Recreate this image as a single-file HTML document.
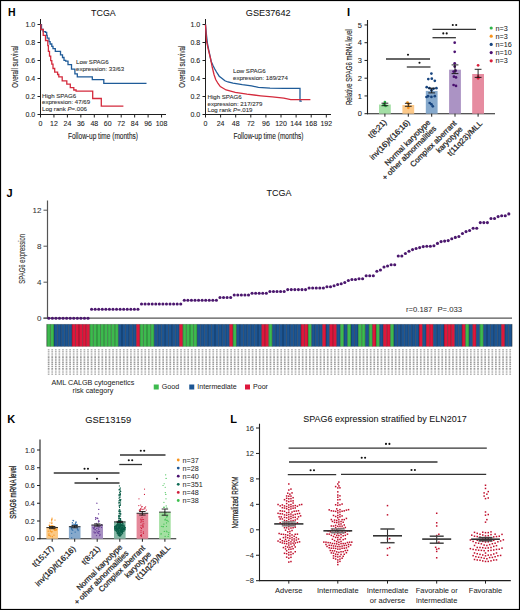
<!DOCTYPE html>
<html><head><meta charset="utf-8"><style>
html,body{margin:0;padding:0;background:#fff;}
svg{display:block;font-family:"Liberation Sans",sans-serif;}
</style></head><body>
<svg width="520" height="610" viewBox="0 0 520 610">
<rect x="0" y="0" width="520" height="610" fill="#fff"/>
<text x="7.9" y="16.4" font-size="10.5" text-anchor="start" fill="#000" font-weight="bold" >H</text>
<line x1="40.5" y1="19" x2="40.5" y2="115" stroke="#1e1e1e" stroke-width="1"/>
<line x1="40" y1="114.5" x2="166" y2="114.5" stroke="#1e1e1e" stroke-width="1"/>
<line x1="37.5" y1="114.5" x2="40.5" y2="114.5" stroke="#1e1e1e" stroke-width="1"/>
<text x="35.2" y="117" font-size="7" text-anchor="end" fill="#222" stroke="#222" stroke-width="0.08" >0.0</text>
<line x1="37.5" y1="96.5" x2="40.5" y2="96.5" stroke="#1e1e1e" stroke-width="1"/>
<text x="35.2" y="99" font-size="7" text-anchor="end" fill="#222" stroke="#222" stroke-width="0.08" >0.2</text>
<line x1="37.5" y1="78.5" x2="40.5" y2="78.5" stroke="#1e1e1e" stroke-width="1"/>
<text x="35.2" y="81" font-size="7" text-anchor="end" fill="#222" stroke="#222" stroke-width="0.08" >0.4</text>
<line x1="37.5" y1="60.5" x2="40.5" y2="60.5" stroke="#1e1e1e" stroke-width="1"/>
<text x="35.2" y="63" font-size="7" text-anchor="end" fill="#222" stroke="#222" stroke-width="0.08" >0.6</text>
<line x1="37.5" y1="42.5" x2="40.5" y2="42.5" stroke="#1e1e1e" stroke-width="1"/>
<text x="35.2" y="45" font-size="7" text-anchor="end" fill="#222" stroke="#222" stroke-width="0.08" >0.8</text>
<line x1="37.5" y1="24.5" x2="40.5" y2="24.5" stroke="#1e1e1e" stroke-width="1"/>
<text x="35.2" y="27" font-size="7" text-anchor="end" fill="#222" stroke="#222" stroke-width="0.08" >1.0</text>
<line x1="40.5" y1="114.5" x2="40.5" y2="117.5" stroke="#1e1e1e" stroke-width="1"/>
<text x="40.5" y="126" font-size="7" text-anchor="middle" fill="#222" stroke="#222" stroke-width="0.08" >0</text>
<line x1="53.95" y1="114.5" x2="53.95" y2="117.5" stroke="#1e1e1e" stroke-width="1"/>
<text x="53.95" y="126" font-size="7" text-anchor="middle" fill="#222" stroke="#222" stroke-width="0.08" >12</text>
<line x1="67.4" y1="114.5" x2="67.4" y2="117.5" stroke="#1e1e1e" stroke-width="1"/>
<text x="67.4" y="126" font-size="7" text-anchor="middle" fill="#222" stroke="#222" stroke-width="0.08" >24</text>
<line x1="80.85" y1="114.5" x2="80.85" y2="117.5" stroke="#1e1e1e" stroke-width="1"/>
<text x="80.85" y="126" font-size="7" text-anchor="middle" fill="#222" stroke="#222" stroke-width="0.08" >36</text>
<line x1="94.3" y1="114.5" x2="94.3" y2="117.5" stroke="#1e1e1e" stroke-width="1"/>
<text x="94.3" y="126" font-size="7" text-anchor="middle" fill="#222" stroke="#222" stroke-width="0.08" >48</text>
<line x1="107.75" y1="114.5" x2="107.75" y2="117.5" stroke="#1e1e1e" stroke-width="1"/>
<text x="107.75" y="126" font-size="7" text-anchor="middle" fill="#222" stroke="#222" stroke-width="0.08" >60</text>
<line x1="121.2" y1="114.5" x2="121.2" y2="117.5" stroke="#1e1e1e" stroke-width="1"/>
<text x="121.2" y="126" font-size="7" text-anchor="middle" fill="#222" stroke="#222" stroke-width="0.08" >72</text>
<line x1="134.65" y1="114.5" x2="134.65" y2="117.5" stroke="#1e1e1e" stroke-width="1"/>
<text x="134.65" y="126" font-size="7" text-anchor="middle" fill="#222" stroke="#222" stroke-width="0.08" >84</text>
<line x1="148.1" y1="114.5" x2="148.1" y2="117.5" stroke="#1e1e1e" stroke-width="1"/>
<text x="148.1" y="126" font-size="7" text-anchor="middle" fill="#222" stroke="#222" stroke-width="0.08" >96</text>
<line x1="161.55" y1="114.5" x2="161.55" y2="117.5" stroke="#1e1e1e" stroke-width="1"/>
<text x="161.55" y="126" font-size="7" text-anchor="middle" fill="#222" stroke="#222" stroke-width="0.08" >108</text>
<text x="103.4" y="15.9" font-size="9.7" text-anchor="middle" fill="#111" stroke="#111" stroke-width="0.05" textLength="24.6" lengthAdjust="spacingAndGlyphs" >TCGA</text>
<text transform="translate(14.6,66.7) rotate(-90)" x="0" y="3.49" font-size="9.7" text-anchor="middle" fill="#222" stroke="#222" stroke-width="0.12" textLength="42" lengthAdjust="spacingAndGlyphs">Overall survival</text>
<text x="103" y="138.5" font-size="9.7" text-anchor="middle" fill="#222" stroke="#222" stroke-width="0.12" textLength="70" lengthAdjust="spacingAndGlyphs" >Follow-up time (months)</text>
<path d="M40.5,24.6 H41.5 V29.5 H43.2 V31.6 H45.5 V32.4 H46.7 V35.3 H47.2 V38.2 H49 V41.6 H50.1 V44 H51.8 V46.3 H53 V48.6 H55.3 V51.4 H58.2 V51.4 H60.5 V54.9 H62.5 V57.5 H64 V60.3 H65.7 V61.2 H68 V64.6 H71.5 V69.2 H74.9 V73.8 H77.3 V76.9 H92.3 V79.6 H103.8 V83.3 H146.5 V83.3" fill="none" stroke="#1f5b98" stroke-width="1.3"/>
<path d="M40.5,24.6 H40.9 V29.5 H43.2 V35.3 H45.5 V40.5 H47.8 V45.7 H48.4 V51.4 H49.5 V56.1 H50.7 V60.7 H51.8 V64.1 H53 V68.5 H54.7 V72.2 H57.6 V74.5 H58.8 V76.8 H62.2 V80.8 H66.8 V84.2 H70.3 V87.7 H73.8 V90 H76.1 V91.2 H92.7 V98.5 H101.3 V106.2 H123.4 V106.2" fill="none" stroke="#d42a3c" stroke-width="1.3"/>
<text x="76" y="63.5" font-size="6.1" text-anchor="start" fill="#333" stroke="#333" stroke-width="0.1" >Low SPAG6</text>
<text x="76" y="70.5" font-size="6.1" text-anchor="start" fill="#333" stroke="#333" stroke-width="0.1" >expression: 33/63</text>
<text x="42" y="97.8" font-size="6.1" text-anchor="start" fill="#333" stroke="#333" stroke-width="0.1" >High SPAG6</text>
<text x="42" y="104.45" font-size="6.1" text-anchor="start" fill="#333" stroke="#333" stroke-width="0.1" >expression: 47/69</text>
<text x="42" y="111.1" font-size="6.1" text-anchor="start" fill="#333" stroke="#333" stroke-width="0.1" >Log rank <tspan font-style="italic">P</tspan>=.006</text>
<line x1="205.5" y1="19" x2="205.5" y2="115" stroke="#1e1e1e" stroke-width="1"/>
<line x1="205" y1="114.5" x2="331" y2="114.5" stroke="#1e1e1e" stroke-width="1"/>
<line x1="202.5" y1="114.5" x2="205.5" y2="114.5" stroke="#1e1e1e" stroke-width="1"/>
<text x="200.2" y="117" font-size="7" text-anchor="end" fill="#222" stroke="#222" stroke-width="0.08" >0.0</text>
<line x1="202.5" y1="96.5" x2="205.5" y2="96.5" stroke="#1e1e1e" stroke-width="1"/>
<text x="200.2" y="99" font-size="7" text-anchor="end" fill="#222" stroke="#222" stroke-width="0.08" >0.2</text>
<line x1="202.5" y1="78.5" x2="205.5" y2="78.5" stroke="#1e1e1e" stroke-width="1"/>
<text x="200.2" y="81" font-size="7" text-anchor="end" fill="#222" stroke="#222" stroke-width="0.08" >0.4</text>
<line x1="202.5" y1="60.5" x2="205.5" y2="60.5" stroke="#1e1e1e" stroke-width="1"/>
<text x="200.2" y="63" font-size="7" text-anchor="end" fill="#222" stroke="#222" stroke-width="0.08" >0.6</text>
<line x1="202.5" y1="42.5" x2="205.5" y2="42.5" stroke="#1e1e1e" stroke-width="1"/>
<text x="200.2" y="45" font-size="7" text-anchor="end" fill="#222" stroke="#222" stroke-width="0.08" >0.8</text>
<line x1="202.5" y1="24.5" x2="205.5" y2="24.5" stroke="#1e1e1e" stroke-width="1"/>
<text x="200.2" y="27" font-size="7" text-anchor="end" fill="#222" stroke="#222" stroke-width="0.08" >1.0</text>
<line x1="205.5" y1="114.5" x2="205.5" y2="117.5" stroke="#1e1e1e" stroke-width="1"/>
<text x="205.5" y="126" font-size="7" text-anchor="middle" fill="#222" stroke="#222" stroke-width="0.08" >0</text>
<line x1="220.6" y1="114.5" x2="220.6" y2="117.5" stroke="#1e1e1e" stroke-width="1"/>
<text x="220.6" y="126" font-size="7" text-anchor="middle" fill="#222" stroke="#222" stroke-width="0.08" >24</text>
<line x1="235.7" y1="114.5" x2="235.7" y2="117.5" stroke="#1e1e1e" stroke-width="1"/>
<text x="235.7" y="126" font-size="7" text-anchor="middle" fill="#222" stroke="#222" stroke-width="0.08" >48</text>
<line x1="250.8" y1="114.5" x2="250.8" y2="117.5" stroke="#1e1e1e" stroke-width="1"/>
<text x="250.8" y="126" font-size="7" text-anchor="middle" fill="#222" stroke="#222" stroke-width="0.08" >72</text>
<line x1="265.9" y1="114.5" x2="265.9" y2="117.5" stroke="#1e1e1e" stroke-width="1"/>
<text x="265.9" y="126" font-size="7" text-anchor="middle" fill="#222" stroke="#222" stroke-width="0.08" >96</text>
<line x1="281" y1="114.5" x2="281" y2="117.5" stroke="#1e1e1e" stroke-width="1"/>
<text x="281" y="126" font-size="7" text-anchor="middle" fill="#222" stroke="#222" stroke-width="0.08" >120</text>
<line x1="296.1" y1="114.5" x2="296.1" y2="117.5" stroke="#1e1e1e" stroke-width="1"/>
<text x="296.1" y="126" font-size="7" text-anchor="middle" fill="#222" stroke="#222" stroke-width="0.08" >144</text>
<line x1="311.2" y1="114.5" x2="311.2" y2="117.5" stroke="#1e1e1e" stroke-width="1"/>
<text x="311.2" y="126" font-size="7" text-anchor="middle" fill="#222" stroke="#222" stroke-width="0.08" >168</text>
<line x1="326.3" y1="114.5" x2="326.3" y2="117.5" stroke="#1e1e1e" stroke-width="1"/>
<text x="326.3" y="126" font-size="7" text-anchor="middle" fill="#222" stroke="#222" stroke-width="0.08" >192</text>
<text x="268.2" y="16.1" font-size="9.7" text-anchor="middle" fill="#111" stroke="#111" stroke-width="0.05" textLength="44.8" lengthAdjust="spacingAndGlyphs" >GSE37642</text>
<text transform="translate(181,66.7) rotate(-90)" x="0" y="3.49" font-size="9.7" text-anchor="middle" fill="#222" stroke="#222" stroke-width="0.12" textLength="42" lengthAdjust="spacingAndGlyphs">Overall survival</text>
<text x="268.5" y="138.5" font-size="9.7" text-anchor="middle" fill="#222" stroke="#222" stroke-width="0.12" textLength="70" lengthAdjust="spacingAndGlyphs" >Follow-up time (months)</text>
<path d="M205.5,24.6 L206.5,35.3 L207.6,44.5 L209.3,52.6 L211.1,61.2 L213,65.5 L214.5,68.5 L216.5,72 L219.2,76.2 L221.5,78 L224.9,80.8 L228,82 L233,83.1 L242.3,84.7 L251.5,85.9 L258.4,87.3 L270,88.2 L283.8,88.4 L300,88.4 V101.1 H301.8" fill="none" stroke="#1f5b98" stroke-width="1.3"/>
<path d="M205.5,24.6 L206.5,41 L208.2,49.1 L210.5,58.4 L212.2,67 L214,74.5 L215.7,79.5 L218,83.5 L220.3,86.6 L226.1,90 L235.3,92.3 L246.9,94.2 L260.7,95.8 L272.3,96.9 L283.8,98.1 L290.8,99.7 L310.4,99.7" fill="none" stroke="#d42a3c" stroke-width="1.3"/>
<text x="233" y="72.8" font-size="6.1" text-anchor="start" fill="#333" stroke="#333" stroke-width="0.1" >Low SPAG6</text>
<text x="233" y="79.8" font-size="6.1" text-anchor="start" fill="#333" stroke="#333" stroke-width="0.1" >expression: 189/274</text>
<text x="207.5" y="99.3" font-size="6.1" text-anchor="start" fill="#333" stroke="#333" stroke-width="0.1" >High SPAG6</text>
<text x="207.5" y="105.8" font-size="6.1" text-anchor="start" fill="#333" stroke="#333" stroke-width="0.1" >expression: 217/279</text>
<text x="207.5" y="112.3" font-size="6.1" text-anchor="start" fill="#333" stroke="#333" stroke-width="0.1" >Log rank <tspan font-style="italic">P</tspan>=.019</text>
<text x="347" y="16.3" font-size="11" text-anchor="start" fill="#000" font-weight="bold" >I</text>
<line x1="367.5" y1="20" x2="367.5" y2="114.2" stroke="#1e1e1e" stroke-width="1.1"/>
<line x1="367" y1="113.7" x2="495" y2="113.7" stroke="#1e1e1e" stroke-width="1.1"/>
<line x1="364.5" y1="113.7" x2="367.5" y2="113.7" stroke="#1e1e1e" stroke-width="1"/>
<text x="362" y="116.4" font-size="7.5" text-anchor="end" fill="#222" stroke="#222" stroke-width="0.08" >0</text>
<line x1="364.5" y1="95.95" x2="367.5" y2="95.95" stroke="#1e1e1e" stroke-width="1"/>
<text x="362" y="98.65" font-size="7.5" text-anchor="end" fill="#222" stroke="#222" stroke-width="0.08" >1</text>
<line x1="364.5" y1="78.2" x2="367.5" y2="78.2" stroke="#1e1e1e" stroke-width="1"/>
<text x="362" y="80.9" font-size="7.5" text-anchor="end" fill="#222" stroke="#222" stroke-width="0.08" >2</text>
<line x1="364.5" y1="60.45" x2="367.5" y2="60.45" stroke="#1e1e1e" stroke-width="1"/>
<text x="362" y="63.15" font-size="7.5" text-anchor="end" fill="#222" stroke="#222" stroke-width="0.08" >3</text>
<line x1="364.5" y1="42.7" x2="367.5" y2="42.7" stroke="#1e1e1e" stroke-width="1"/>
<text x="362" y="45.4" font-size="7.5" text-anchor="end" fill="#222" stroke="#222" stroke-width="0.08" >4</text>
<line x1="364.5" y1="24.95" x2="367.5" y2="24.95" stroke="#1e1e1e" stroke-width="1"/>
<text x="362" y="27.65" font-size="7.5" text-anchor="end" fill="#222" stroke="#222" stroke-width="0.08" >5</text>
<text transform="translate(348.5,67.1) rotate(-90)" x="0" y="3.49" font-size="9.7" text-anchor="middle" fill="#222" stroke="#222" stroke-width="0.12" textLength="76" lengthAdjust="spacingAndGlyphs">Relative SPAG6 mRNA level</text>
<rect x="379" y="104.5" width="11.8" height="9.2" fill="#a3dfa5"/>
<line x1="384.9" y1="113.7" x2="384.9" y2="116.7" stroke="#1e1e1e" stroke-width="1"/>
<circle cx="384.9" cy="102" r="1.35" fill="#2eb34a"/>
<circle cx="383.8" cy="104.4" r="1.35" fill="#2eb34a"/>
<circle cx="385.6" cy="105.9" r="1.35" fill="#2eb34a"/>
<line x1="384.9" y1="103.2" x2="384.9" y2="105.7" stroke="#111" stroke-width="0.9"/>
<line x1="381.5" y1="103.2" x2="388.3" y2="103.2" stroke="#111" stroke-width="0.9"/>
<line x1="381.5" y1="105.7" x2="388.3" y2="105.7" stroke="#111" stroke-width="0.9"/>
<rect x="402.4" y="105" width="11.8" height="8.7" fill="#fcc98a"/>
<line x1="408.3" y1="113.7" x2="408.3" y2="116.7" stroke="#1e1e1e" stroke-width="1"/>
<circle cx="407.5" cy="102.5" r="1.35" fill="#f7941d"/>
<circle cx="408.6" cy="104" r="1.35" fill="#f7941d"/>
<circle cx="408.3" cy="107.8" r="1.35" fill="#f7941d"/>
<line x1="408.3" y1="103.3" x2="408.3" y2="106.3" stroke="#111" stroke-width="0.9"/>
<line x1="404.9" y1="103.3" x2="411.7" y2="103.3" stroke="#111" stroke-width="0.9"/>
<line x1="404.9" y1="106.3" x2="411.7" y2="106.3" stroke="#111" stroke-width="0.9"/>
<rect x="425.8" y="90.9" width="11.8" height="22.8" fill="#86a9cc"/>
<line x1="431.7" y1="113.7" x2="431.7" y2="116.7" stroke="#1e1e1e" stroke-width="1"/>
<circle cx="431.4" cy="73.6" r="1.35" fill="#17447f"/>
<circle cx="428.3" cy="79.1" r="1.35" fill="#17447f"/>
<circle cx="431.8" cy="78.7" r="1.35" fill="#17447f"/>
<circle cx="434.8" cy="80.8" r="1.35" fill="#17447f"/>
<circle cx="426.7" cy="87.2" r="1.35" fill="#17447f"/>
<circle cx="429.4" cy="88.2" r="1.35" fill="#17447f"/>
<circle cx="433.5" cy="88.8" r="1.35" fill="#17447f"/>
<circle cx="436.4" cy="88.2" r="1.35" fill="#17447f"/>
<circle cx="431.4" cy="90.2" r="1.35" fill="#17447f"/>
<circle cx="428.1" cy="96.2" r="1.35" fill="#17447f"/>
<circle cx="431.4" cy="96.9" r="1.35" fill="#17447f"/>
<circle cx="434.8" cy="96.2" r="1.35" fill="#17447f"/>
<circle cx="429.7" cy="103" r="1.35" fill="#17447f"/>
<circle cx="431.4" cy="104.3" r="1.35" fill="#17447f"/>
<circle cx="432.8" cy="106.3" r="1.35" fill="#17447f"/>
<circle cx="426.5" cy="97" r="1.35" fill="#17447f"/>
<line x1="431.7" y1="88.2" x2="431.7" y2="92.9" stroke="#111" stroke-width="0.9"/>
<line x1="428.3" y1="88.2" x2="435.1" y2="88.2" stroke="#111" stroke-width="0.9"/>
<line x1="428.3" y1="92.9" x2="435.1" y2="92.9" stroke="#111" stroke-width="0.9"/>
<rect x="449.1" y="69.7" width="11.8" height="44" fill="#ab93c4"/>
<line x1="455" y1="113.7" x2="455" y2="116.7" stroke="#1e1e1e" stroke-width="1"/>
<circle cx="454.7" cy="42.7" r="1.35" fill="#4a1070"/>
<circle cx="454.7" cy="51.8" r="1.35" fill="#4a1070"/>
<circle cx="454.7" cy="63.3" r="1.35" fill="#4a1070"/>
<circle cx="454.7" cy="66.6" r="1.35" fill="#4a1070"/>
<circle cx="455.7" cy="70.7" r="1.35" fill="#4a1070"/>
<circle cx="453.6" cy="71.6" r="1.35" fill="#4a1070"/>
<circle cx="453.9" cy="76.7" r="1.35" fill="#4a1070"/>
<circle cx="456" cy="77.4" r="1.35" fill="#4a1070"/>
<circle cx="453.6" cy="85" r="1.35" fill="#4a1070"/>
<circle cx="456" cy="85.9" r="1.35" fill="#4a1070"/>
<line x1="455" y1="64.9" x2="455" y2="73.6" stroke="#111" stroke-width="0.9"/>
<line x1="451.6" y1="64.9" x2="458.4" y2="64.9" stroke="#111" stroke-width="0.9"/>
<line x1="451.6" y1="73.6" x2="458.4" y2="73.6" stroke="#111" stroke-width="0.9"/>
<rect x="472.2" y="74" width="11.8" height="39.7" fill="#e68ca0"/>
<line x1="478.1" y1="113.7" x2="478.1" y2="116.7" stroke="#1e1e1e" stroke-width="1"/>
<circle cx="478.1" cy="65.3" r="1.35" fill="#d91f3c"/>
<circle cx="478.1" cy="76.7" r="1.35" fill="#d91f3c"/>
<circle cx="478.1" cy="78.3" r="1.35" fill="#d91f3c"/>
<line x1="478.1" y1="69.3" x2="478.1" y2="77.4" stroke="#111" stroke-width="0.9"/>
<line x1="474.7" y1="69.3" x2="481.5" y2="69.3" stroke="#111" stroke-width="0.9"/>
<line x1="474.7" y1="77.4" x2="481.5" y2="77.4" stroke="#111" stroke-width="0.9"/>
<line x1="386" y1="59" x2="430" y2="59" stroke="#333" stroke-width="1.3"/>
<circle cx="408" cy="54.7" r="1.05" fill="#111"/>
<line x1="406.8" y1="67" x2="430.5" y2="67" stroke="#333" stroke-width="1.3"/>
<circle cx="419.5" cy="62.7" r="1.05" fill="#111"/>
<line x1="432.5" y1="37.7" x2="455.9" y2="37.7" stroke="#333" stroke-width="1.3"/>
<circle cx="443.3" cy="33.4" r="1.05" fill="#111"/>
<circle cx="446.7" cy="33.4" r="1.05" fill="#111"/>
<line x1="432.5" y1="29.3" x2="476" y2="29.3" stroke="#333" stroke-width="1.3"/>
<circle cx="452.8" cy="25" r="1.05" fill="#111"/>
<circle cx="456.2" cy="25" r="1.05" fill="#111"/>
<circle cx="491.2" cy="28" r="1.6" fill="#2eb34a"/>
<text x="495.6" y="30.5" font-size="7.2" text-anchor="start" fill="#222" stroke="#222" stroke-width="0.05" >n=3</text>
<circle cx="491.2" cy="36.2" r="1.6" fill="#f7941d"/>
<text x="495.6" y="38.7" font-size="7.2" text-anchor="start" fill="#222" stroke="#222" stroke-width="0.05" >n=3</text>
<circle cx="491.2" cy="44.4" r="1.6" fill="#17447f"/>
<text x="495.6" y="46.9" font-size="7.2" text-anchor="start" fill="#222" stroke="#222" stroke-width="0.05" >n=16</text>
<circle cx="491.2" cy="52.6" r="1.6" fill="#4a1070"/>
<text x="495.6" y="55.1" font-size="7.2" text-anchor="start" fill="#222" stroke="#222" stroke-width="0.05" >n=10</text>
<circle cx="491.2" cy="60.8" r="1.6" fill="#d91f3c"/>
<text x="495.6" y="63.3" font-size="7.2" text-anchor="start" fill="#222" stroke="#222" stroke-width="0.05" >n=3</text>
<text transform="translate(387.2,122.7) rotate(-45)" x="0" y="0" font-size="7.8" text-anchor="end" fill="#222" stroke="#222" stroke-width="0.25">t(8;21)</text>
<text transform="translate(410.3,122.9) rotate(-45)" x="0" y="0" font-size="7.8" text-anchor="end" fill="#222" stroke="#222" stroke-width="0.25">inv(16)/t(16;16)</text>
<text transform="translate(430.85,123) rotate(-45)" x="0" y="0" font-size="7.8" text-anchor="end" fill="#222" stroke="#222" stroke-width="0.25">Normal karyotype</text>
<text transform="translate(436.86,129.01) rotate(-45)" x="0" y="0" font-size="7.8" text-anchor="end" fill="#222" stroke="#222" stroke-width="0.25">+ other abnormalities</text>
<text transform="translate(457.05,123.7) rotate(-45)" x="0" y="0" font-size="7.8" text-anchor="end" fill="#222" stroke="#222" stroke-width="0.25">Complex aberrant</text>
<text transform="translate(463.06,129.71) rotate(-45)" x="0" y="0" font-size="7.8" text-anchor="end" fill="#222" stroke="#222" stroke-width="0.25">karyotype</text>
<text transform="translate(482.8,124) rotate(-45)" x="0" y="0" font-size="7.8" text-anchor="end" fill="#222" stroke="#222" stroke-width="0.25">t(11q23)/MLL</text>
<text x="6.4" y="196.5" font-size="11" text-anchor="start" fill="#000" font-weight="bold" >J</text>
<line x1="47.5" y1="200.5" x2="47.5" y2="318.7" stroke="#555" stroke-width="1.2"/>
<line x1="43.5" y1="318.2" x2="512" y2="318.2" stroke="#555" stroke-width="1.2"/>
<line x1="43.5" y1="318.2" x2="47.5" y2="318.2" stroke="#555" stroke-width="1"/>
<text x="41.5" y="321" font-size="8" text-anchor="end" fill="#333" stroke="#333" stroke-width="0.05" >0</text>
<line x1="43.5" y1="282.2" x2="47.5" y2="282.2" stroke="#555" stroke-width="1"/>
<text x="41.5" y="285" font-size="8" text-anchor="end" fill="#333" stroke="#333" stroke-width="0.05" >4</text>
<line x1="43.5" y1="246.2" x2="47.5" y2="246.2" stroke="#555" stroke-width="1"/>
<text x="41.5" y="249" font-size="8" text-anchor="end" fill="#333" stroke="#333" stroke-width="0.05" >8</text>
<line x1="43.5" y1="210.2" x2="47.5" y2="210.2" stroke="#555" stroke-width="1"/>
<text x="41.5" y="213" font-size="8" text-anchor="end" fill="#333" stroke="#333" stroke-width="0.05" >12</text>
<text transform="translate(21.2,258.8) rotate(-90)" x="0" y="3.49" font-size="9.7" text-anchor="middle" fill="#333" stroke="#333" stroke-width="0.12" textLength="50" lengthAdjust="spacingAndGlyphs">SPAG6 expression</text>
<text x="279" y="196.3" font-size="9.7" text-anchor="middle" fill="#111" stroke="#111" stroke-width="0.05" textLength="25" lengthAdjust="spacingAndGlyphs" >TCGA</text>
<text x="406" y="311.8" font-size="7.4" text-anchor="start" fill="#333" stroke="#333" stroke-width="0.05" textLength="26.3" lengthAdjust="spacingAndGlyphs" >r=0.187</text>
<text x="437.4" y="311.8" font-size="7.4" text-anchor="start" fill="#333" stroke="#333" stroke-width="0.05" textLength="24.8" lengthAdjust="spacingAndGlyphs" >P=.033</text>
<g fill="#4b176e"><circle cx="48.8" cy="318.2" r="1.55"/><circle cx="52.37" cy="318.2" r="1.55"/><circle cx="55.93" cy="318.2" r="1.55"/><circle cx="59.5" cy="318.2" r="1.55"/><circle cx="63.06" cy="318.2" r="1.55"/><circle cx="66.63" cy="318.2" r="1.55"/><circle cx="70.2" cy="318.2" r="1.55"/><circle cx="73.76" cy="318.2" r="1.55"/><circle cx="77.33" cy="318.2" r="1.55"/><circle cx="80.89" cy="318.2" r="1.55"/><circle cx="84.46" cy="318.2" r="1.55"/><circle cx="88.03" cy="318.2" r="1.55"/><circle cx="91.59" cy="309.25" r="1.55"/><circle cx="95.16" cy="309.25" r="1.55"/><circle cx="98.72" cy="309.25" r="1.55"/><circle cx="102.29" cy="309.25" r="1.55"/><circle cx="105.86" cy="309.25" r="1.55"/><circle cx="109.42" cy="309.25" r="1.55"/><circle cx="112.99" cy="309.25" r="1.55"/><circle cx="116.55" cy="309.25" r="1.55"/><circle cx="120.12" cy="309.25" r="1.55"/><circle cx="123.69" cy="309.25" r="1.55"/><circle cx="127.25" cy="309.25" r="1.55"/><circle cx="130.82" cy="309.25" r="1.55"/><circle cx="134.38" cy="309.25" r="1.55"/><circle cx="137.95" cy="309.25" r="1.55"/><circle cx="141.52" cy="304" r="1.55"/><circle cx="145.08" cy="304" r="1.55"/><circle cx="148.65" cy="304" r="1.55"/><circle cx="152.21" cy="304" r="1.55"/><circle cx="155.78" cy="304" r="1.55"/><circle cx="159.35" cy="304" r="1.55"/><circle cx="162.91" cy="304" r="1.55"/><circle cx="166.48" cy="304" r="1.55"/><circle cx="170.04" cy="304" r="1.55"/><circle cx="173.61" cy="304" r="1.55"/><circle cx="177.18" cy="304" r="1.55"/><circle cx="180.74" cy="304" r="1.55"/><circle cx="184.31" cy="300.25" r="1.55"/><circle cx="187.87" cy="300.25" r="1.55"/><circle cx="191.44" cy="300.25" r="1.55"/><circle cx="195.01" cy="300.25" r="1.55"/><circle cx="198.57" cy="300.25" r="1.55"/><circle cx="202.14" cy="300.25" r="1.55"/><circle cx="205.7" cy="300.25" r="1.55"/><circle cx="209.27" cy="300.25" r="1.55"/><circle cx="212.84" cy="300.25" r="1.55"/><circle cx="216.4" cy="300.25" r="1.55"/><circle cx="219.97" cy="297.5" r="1.55"/><circle cx="223.53" cy="297.5" r="1.55"/><circle cx="227.1" cy="297.5" r="1.55"/><circle cx="230.67" cy="297.5" r="1.55"/><circle cx="234.23" cy="295" r="1.55"/><circle cx="237.8" cy="295" r="1.55"/><circle cx="241.36" cy="295" r="1.55"/><circle cx="244.93" cy="295" r="1.55"/><circle cx="248.5" cy="295" r="1.55"/><circle cx="252.06" cy="293.25" r="1.55"/><circle cx="255.63" cy="293.25" r="1.55"/><circle cx="259.19" cy="293.25" r="1.55"/><circle cx="262.76" cy="293.25" r="1.55"/><circle cx="266.33" cy="293.25" r="1.55"/><circle cx="269.89" cy="291.5" r="1.55"/><circle cx="273.46" cy="291.5" r="1.55"/><circle cx="277.02" cy="291.5" r="1.55"/><circle cx="280.59" cy="291.5" r="1.55"/><circle cx="284.16" cy="291.5" r="1.55"/><circle cx="287.72" cy="289.6" r="1.55"/><circle cx="291.29" cy="289.6" r="1.55"/><circle cx="294.85" cy="289.6" r="1.55"/><circle cx="298.42" cy="289.6" r="1.55"/><circle cx="301.99" cy="289.6" r="1.55"/><circle cx="305.55" cy="289.6" r="1.55"/><circle cx="309.12" cy="288" r="1.55"/><circle cx="312.68" cy="288" r="1.55"/><circle cx="316.25" cy="288" r="1.55"/><circle cx="319.82" cy="288" r="1.55"/><circle cx="323.38" cy="288" r="1.55"/><circle cx="326.95" cy="286.75" r="1.55"/><circle cx="330.51" cy="286.75" r="1.55"/><circle cx="334.08" cy="285.75" r="1.55"/><circle cx="337.65" cy="284.5" r="1.55"/><circle cx="341.21" cy="283.75" r="1.55"/><circle cx="344.78" cy="282.5" r="1.55"/><circle cx="348.34" cy="280.5" r="1.55"/><circle cx="351.91" cy="279.5" r="1.55"/><circle cx="355.48" cy="279.5" r="1.55"/><circle cx="359.04" cy="278.75" r="1.55"/><circle cx="362.61" cy="278.75" r="1.55"/><circle cx="366.17" cy="275.75" r="1.55"/><circle cx="369.74" cy="275.75" r="1.55"/><circle cx="373.31" cy="275.75" r="1.55"/><circle cx="376.87" cy="271.25" r="1.55"/><circle cx="380.44" cy="270" r="1.55"/><circle cx="384" cy="267" r="1.55"/><circle cx="387.57" cy="266" r="1.55"/><circle cx="391.14" cy="264.75" r="1.55"/><circle cx="394.7" cy="264.75" r="1.55"/><circle cx="398.27" cy="256" r="1.55"/><circle cx="401.83" cy="256" r="1.55"/><circle cx="405.4" cy="253.5" r="1.55"/><circle cx="408.97" cy="251.3" r="1.55"/><circle cx="412.53" cy="249.6" r="1.55"/><circle cx="416.1" cy="248.5" r="1.55"/><circle cx="419.66" cy="247.6" r="1.55"/><circle cx="423.23" cy="246.6" r="1.55"/><circle cx="426.8" cy="246.2" r="1.55"/><circle cx="430.36" cy="246.2" r="1.55"/><circle cx="433.93" cy="245.7" r="1.55"/><circle cx="437.49" cy="243.4" r="1.55"/><circle cx="441.06" cy="241.6" r="1.55"/><circle cx="444.63" cy="241.1" r="1.55"/><circle cx="448.19" cy="240.6" r="1.55"/><circle cx="451.76" cy="238.8" r="1.55"/><circle cx="455.32" cy="237.4" r="1.55"/><circle cx="458.89" cy="236.5" r="1.55"/><circle cx="462.46" cy="233.5" r="1.55"/><circle cx="466.02" cy="231.6" r="1.55"/><circle cx="469.59" cy="230.5" r="1.55"/><circle cx="473.15" cy="228.2" r="1.55"/><circle cx="476.72" cy="228.2" r="1.55"/><circle cx="480.29" cy="222.6" r="1.55"/><circle cx="483.85" cy="222.6" r="1.55"/><circle cx="487.42" cy="222.6" r="1.55"/><circle cx="490.98" cy="218.5" r="1.55"/><circle cx="494.55" cy="218.5" r="1.55"/><circle cx="498.12" cy="216.6" r="1.55"/><circle cx="501.68" cy="215.7" r="1.55"/><circle cx="505.25" cy="215.7" r="1.55"/><circle cx="508.81" cy="213.9" r="1.55"/></g>
<rect x="46.85" y="324.2" width="3.58" height="22.3" fill="#3dba4e"/><rect x="50.43" y="324.2" width="3.58" height="22.3" fill="#3dba4e"/><rect x="54.01" y="324.2" width="3.58" height="22.3" fill="#1c5593"/><rect x="57.58" y="324.2" width="3.58" height="22.3" fill="#1c5593"/><rect x="61.16" y="324.2" width="3.58" height="22.3" fill="#1c5593"/><rect x="64.74" y="324.2" width="3.58" height="22.3" fill="#1c5593"/><rect x="68.32" y="324.2" width="3.58" height="22.3" fill="#1c5593"/><rect x="71.9" y="324.2" width="3.58" height="22.3" fill="#de173c"/><rect x="75.47" y="324.2" width="3.58" height="22.3" fill="#de173c"/><rect x="79.05" y="324.2" width="3.58" height="22.3" fill="#de173c"/><rect x="82.63" y="324.2" width="3.58" height="22.3" fill="#de173c"/><rect x="86.21" y="324.2" width="3.58" height="22.3" fill="#de173c"/><rect x="89.79" y="324.2" width="3.58" height="22.3" fill="#3dba4e"/><rect x="93.36" y="324.2" width="3.58" height="22.3" fill="#3dba4e"/><rect x="96.94" y="324.2" width="3.58" height="22.3" fill="#3dba4e"/><rect x="100.52" y="324.2" width="3.58" height="22.3" fill="#3dba4e"/><rect x="104.1" y="324.2" width="3.58" height="22.3" fill="#3dba4e"/><rect x="107.68" y="324.2" width="3.58" height="22.3" fill="#3dba4e"/><rect x="111.26" y="324.2" width="3.58" height="22.3" fill="#3dba4e"/><rect x="114.83" y="324.2" width="3.58" height="22.3" fill="#3dba4e"/><rect x="118.41" y="324.2" width="3.58" height="22.3" fill="#1c5593"/><rect x="121.99" y="324.2" width="3.58" height="22.3" fill="#1c5593"/><rect x="125.57" y="324.2" width="3.58" height="22.3" fill="#1c5593"/><rect x="129.15" y="324.2" width="3.58" height="22.3" fill="#1c5593"/><rect x="132.72" y="324.2" width="3.58" height="22.3" fill="#1c5593"/><rect x="136.3" y="324.2" width="3.58" height="22.3" fill="#de173c"/><rect x="139.88" y="324.2" width="3.58" height="22.3" fill="#3dba4e"/><rect x="143.46" y="324.2" width="3.58" height="22.3" fill="#3dba4e"/><rect x="147.04" y="324.2" width="3.58" height="22.3" fill="#3dba4e"/><rect x="150.61" y="324.2" width="3.58" height="22.3" fill="#3dba4e"/><rect x="154.19" y="324.2" width="3.58" height="22.3" fill="#1c5593"/><rect x="157.77" y="324.2" width="3.58" height="22.3" fill="#1c5593"/><rect x="161.35" y="324.2" width="3.58" height="22.3" fill="#1c5593"/><rect x="164.93" y="324.2" width="3.58" height="22.3" fill="#1c5593"/><rect x="168.5" y="324.2" width="3.58" height="22.3" fill="#1c5593"/><rect x="172.08" y="324.2" width="3.58" height="22.3" fill="#1c5593"/><rect x="175.66" y="324.2" width="3.58" height="22.3" fill="#1c5593"/><rect x="179.24" y="324.2" width="3.58" height="22.3" fill="#de173c"/><rect x="182.82" y="324.2" width="3.58" height="22.3" fill="#3dba4e"/><rect x="186.39" y="324.2" width="3.58" height="22.3" fill="#3dba4e"/><rect x="189.97" y="324.2" width="3.58" height="22.3" fill="#3dba4e"/><rect x="193.55" y="324.2" width="3.58" height="22.3" fill="#3dba4e"/><rect x="197.13" y="324.2" width="3.58" height="22.3" fill="#1c5593"/><rect x="200.71" y="324.2" width="3.58" height="22.3" fill="#1c5593"/><rect x="204.29" y="324.2" width="3.58" height="22.3" fill="#1c5593"/><rect x="207.86" y="324.2" width="3.58" height="22.3" fill="#1c5593"/><rect x="211.44" y="324.2" width="3.58" height="22.3" fill="#1c5593"/><rect x="215.02" y="324.2" width="3.58" height="22.3" fill="#1c5593"/><rect x="218.6" y="324.2" width="3.58" height="22.3" fill="#1c5593"/><rect x="222.18" y="324.2" width="3.58" height="22.3" fill="#1c5593"/><rect x="225.75" y="324.2" width="3.58" height="22.3" fill="#1c5593"/><rect x="229.33" y="324.2" width="3.58" height="22.3" fill="#de173c"/><rect x="232.91" y="324.2" width="3.58" height="22.3" fill="#3dba4e"/><rect x="236.49" y="324.2" width="3.58" height="22.3" fill="#1c5593"/><rect x="240.07" y="324.2" width="3.58" height="22.3" fill="#1c5593"/><rect x="243.64" y="324.2" width="3.58" height="22.3" fill="#1c5593"/><rect x="247.22" y="324.2" width="3.58" height="22.3" fill="#1c5593"/><rect x="250.8" y="324.2" width="3.58" height="22.3" fill="#1c5593"/><rect x="254.38" y="324.2" width="3.58" height="22.3" fill="#1c5593"/><rect x="257.96" y="324.2" width="3.58" height="22.3" fill="#1c5593"/><rect x="261.53" y="324.2" width="3.58" height="22.3" fill="#de173c"/><rect x="265.11" y="324.2" width="3.58" height="22.3" fill="#de173c"/><rect x="268.69" y="324.2" width="3.58" height="22.3" fill="#3dba4e"/><rect x="272.27" y="324.2" width="3.58" height="22.3" fill="#1c5593"/><rect x="275.85" y="324.2" width="3.58" height="22.3" fill="#1c5593"/><rect x="279.43" y="324.2" width="3.58" height="22.3" fill="#1c5593"/><rect x="283" y="324.2" width="3.58" height="22.3" fill="#1c5593"/><rect x="286.58" y="324.2" width="3.58" height="22.3" fill="#1c5593"/><rect x="290.16" y="324.2" width="3.58" height="22.3" fill="#1c5593"/><rect x="293.74" y="324.2" width="3.58" height="22.3" fill="#1c5593"/><rect x="297.32" y="324.2" width="3.58" height="22.3" fill="#1c5593"/><rect x="300.89" y="324.2" width="3.58" height="22.3" fill="#de173c"/><rect x="304.47" y="324.2" width="3.58" height="22.3" fill="#de173c"/><rect x="308.05" y="324.2" width="3.58" height="22.3" fill="#3dba4e"/><rect x="311.63" y="324.2" width="3.58" height="22.3" fill="#1c5593"/><rect x="315.21" y="324.2" width="3.58" height="22.3" fill="#1c5593"/><rect x="318.78" y="324.2" width="3.58" height="22.3" fill="#1c5593"/><rect x="322.36" y="324.2" width="3.58" height="22.3" fill="#de173c"/><rect x="325.94" y="324.2" width="3.58" height="22.3" fill="#1c5593"/><rect x="329.52" y="324.2" width="3.58" height="22.3" fill="#de173c"/><rect x="333.1" y="324.2" width="3.58" height="22.3" fill="#de173c"/><rect x="336.67" y="324.2" width="3.58" height="22.3" fill="#1c5593"/><rect x="340.25" y="324.2" width="3.58" height="22.3" fill="#3dba4e"/><rect x="343.83" y="324.2" width="3.58" height="22.3" fill="#1c5593"/><rect x="347.41" y="324.2" width="3.58" height="22.3" fill="#3dba4e"/><rect x="350.99" y="324.2" width="3.58" height="22.3" fill="#1c5593"/><rect x="354.56" y="324.2" width="3.58" height="22.3" fill="#1c5593"/><rect x="358.14" y="324.2" width="3.58" height="22.3" fill="#3dba4e"/><rect x="361.72" y="324.2" width="3.58" height="22.3" fill="#3dba4e"/><rect x="365.3" y="324.2" width="3.58" height="22.3" fill="#1c5593"/><rect x="368.88" y="324.2" width="3.58" height="22.3" fill="#3dba4e"/><rect x="372.45" y="324.2" width="3.58" height="22.3" fill="#de173c"/><rect x="376.03" y="324.2" width="3.58" height="22.3" fill="#3dba4e"/><rect x="379.61" y="324.2" width="3.58" height="22.3" fill="#1c5593"/><rect x="383.19" y="324.2" width="3.58" height="22.3" fill="#de173c"/><rect x="386.77" y="324.2" width="3.58" height="22.3" fill="#de173c"/><rect x="390.35" y="324.2" width="3.58" height="22.3" fill="#3dba4e"/><rect x="393.92" y="324.2" width="3.58" height="22.3" fill="#1c5593"/><rect x="397.5" y="324.2" width="3.58" height="22.3" fill="#1c5593"/><rect x="401.08" y="324.2" width="3.58" height="22.3" fill="#1c5593"/><rect x="404.66" y="324.2" width="3.58" height="22.3" fill="#1c5593"/><rect x="408.24" y="324.2" width="3.58" height="22.3" fill="#1c5593"/><rect x="411.81" y="324.2" width="3.58" height="22.3" fill="#1c5593"/><rect x="415.39" y="324.2" width="3.58" height="22.3" fill="#1c5593"/><rect x="418.97" y="324.2" width="3.58" height="22.3" fill="#de173c"/><rect x="422.55" y="324.2" width="3.58" height="22.3" fill="#1c5593"/><rect x="426.13" y="324.2" width="3.58" height="22.3" fill="#de173c"/><rect x="429.7" y="324.2" width="3.58" height="22.3" fill="#de173c"/><rect x="433.28" y="324.2" width="3.58" height="22.3" fill="#1c5593"/><rect x="436.86" y="324.2" width="3.58" height="22.3" fill="#1c5593"/><rect x="440.44" y="324.2" width="3.58" height="22.3" fill="#1c5593"/><rect x="444.02" y="324.2" width="3.58" height="22.3" fill="#de173c"/><rect x="447.59" y="324.2" width="3.58" height="22.3" fill="#de173c"/><rect x="451.17" y="324.2" width="3.58" height="22.3" fill="#de173c"/><rect x="454.75" y="324.2" width="3.58" height="22.3" fill="#1c5593"/><rect x="458.33" y="324.2" width="3.58" height="22.3" fill="#1c5593"/><rect x="461.91" y="324.2" width="3.58" height="22.3" fill="#de173c"/><rect x="465.48" y="324.2" width="3.58" height="22.3" fill="#3dba4e"/><rect x="469.06" y="324.2" width="3.58" height="22.3" fill="#1c5593"/><rect x="472.64" y="324.2" width="3.58" height="22.3" fill="#de173c"/><rect x="476.22" y="324.2" width="3.58" height="22.3" fill="#1c5593"/><rect x="479.8" y="324.2" width="3.58" height="22.3" fill="#3dba4e"/><rect x="483.38" y="324.2" width="3.58" height="22.3" fill="#1c5593"/><rect x="486.95" y="324.2" width="3.58" height="22.3" fill="#1c5593"/><rect x="490.53" y="324.2" width="3.58" height="22.3" fill="#1c5593"/><rect x="494.11" y="324.2" width="3.58" height="22.3" fill="#1c5593"/><rect x="497.69" y="324.2" width="3.58" height="22.3" fill="#1c5593"/><rect x="501.27" y="324.2" width="3.58" height="22.3" fill="#de173c"/><rect x="504.84" y="324.2" width="3.58" height="22.3" fill="#1c5593"/><rect x="508.42" y="324.2" width="3.58" height="22.3" fill="#1c5593"/>
<path d="M46.85,324.2V346.5 M50.43,324.2V346.5 M54.01,324.2V346.5 M57.58,324.2V346.5 M61.16,324.2V346.5 M64.74,324.2V346.5 M68.32,324.2V346.5 M71.9,324.2V346.5 M75.47,324.2V346.5 M79.05,324.2V346.5 M82.63,324.2V346.5 M86.21,324.2V346.5 M89.79,324.2V346.5 M93.36,324.2V346.5 M96.94,324.2V346.5 M100.52,324.2V346.5 M104.1,324.2V346.5 M107.68,324.2V346.5 M111.26,324.2V346.5 M114.83,324.2V346.5 M118.41,324.2V346.5 M121.99,324.2V346.5 M125.57,324.2V346.5 M129.15,324.2V346.5 M132.72,324.2V346.5 M136.3,324.2V346.5 M139.88,324.2V346.5 M143.46,324.2V346.5 M147.04,324.2V346.5 M150.61,324.2V346.5 M154.19,324.2V346.5 M157.77,324.2V346.5 M161.35,324.2V346.5 M164.93,324.2V346.5 M168.5,324.2V346.5 M172.08,324.2V346.5 M175.66,324.2V346.5 M179.24,324.2V346.5 M182.82,324.2V346.5 M186.39,324.2V346.5 M189.97,324.2V346.5 M193.55,324.2V346.5 M197.13,324.2V346.5 M200.71,324.2V346.5 M204.29,324.2V346.5 M207.86,324.2V346.5 M211.44,324.2V346.5 M215.02,324.2V346.5 M218.6,324.2V346.5 M222.18,324.2V346.5 M225.75,324.2V346.5 M229.33,324.2V346.5 M232.91,324.2V346.5 M236.49,324.2V346.5 M240.07,324.2V346.5 M243.64,324.2V346.5 M247.22,324.2V346.5 M250.8,324.2V346.5 M254.38,324.2V346.5 M257.96,324.2V346.5 M261.53,324.2V346.5 M265.11,324.2V346.5 M268.69,324.2V346.5 M272.27,324.2V346.5 M275.85,324.2V346.5 M279.43,324.2V346.5 M283,324.2V346.5 M286.58,324.2V346.5 M290.16,324.2V346.5 M293.74,324.2V346.5 M297.32,324.2V346.5 M300.89,324.2V346.5 M304.47,324.2V346.5 M308.05,324.2V346.5 M311.63,324.2V346.5 M315.21,324.2V346.5 M318.78,324.2V346.5 M322.36,324.2V346.5 M325.94,324.2V346.5 M329.52,324.2V346.5 M333.1,324.2V346.5 M336.67,324.2V346.5 M340.25,324.2V346.5 M343.83,324.2V346.5 M347.41,324.2V346.5 M350.99,324.2V346.5 M354.56,324.2V346.5 M358.14,324.2V346.5 M361.72,324.2V346.5 M365.3,324.2V346.5 M368.88,324.2V346.5 M372.45,324.2V346.5 M376.03,324.2V346.5 M379.61,324.2V346.5 M383.19,324.2V346.5 M386.77,324.2V346.5 M390.35,324.2V346.5 M393.92,324.2V346.5 M397.5,324.2V346.5 M401.08,324.2V346.5 M404.66,324.2V346.5 M408.24,324.2V346.5 M411.81,324.2V346.5 M415.39,324.2V346.5 M418.97,324.2V346.5 M422.55,324.2V346.5 M426.13,324.2V346.5 M429.7,324.2V346.5 M433.28,324.2V346.5 M436.86,324.2V346.5 M440.44,324.2V346.5 M444.02,324.2V346.5 M447.59,324.2V346.5 M451.17,324.2V346.5 M454.75,324.2V346.5 M458.33,324.2V346.5 M461.91,324.2V346.5 M465.48,324.2V346.5 M469.06,324.2V346.5 M472.64,324.2V346.5 M476.22,324.2V346.5 M479.8,324.2V346.5 M483.38,324.2V346.5 M486.95,324.2V346.5 M490.53,324.2V346.5 M494.11,324.2V346.5 M497.69,324.2V346.5 M501.27,324.2V346.5 M504.84,324.2V346.5 M508.42,324.2V346.5 M512,324.2V346.5" stroke="#000" stroke-opacity="0.45" stroke-width="0.8"/>
<rect x="46.85" y="324.2" width="465.15" height="22.3" fill="none" stroke="#555" stroke-opacity="0.5" stroke-width="0.5"/>
<path d="M48.64,375V369.5M48.64,357V348.8 M52.22,375V369.5M52.22,357V348.8 M55.8,375V369.5M55.8,357V348.8 M59.37,375V369.5M59.37,357V348.8 M62.95,375V369.5M62.95,357V348.8 M66.53,375V369.5M66.53,357V348.8 M70.11,375V369.5M70.11,357V348.8 M73.69,375V369.5M73.69,357V348.8 M77.26,375V369.5M77.26,357V348.8 M80.84,375V369.5M80.84,357V348.8 M84.42,375V369.5M84.42,357V348.8 M88,375V369.5M88,357V348.8 M91.58,375V369.5M91.58,357V348.8 M95.15,375V369.5M95.15,357V348.8 M98.73,375V369.5M98.73,357V348.8 M102.31,375V369.5M102.31,357V348.8 M105.89,375V369.5M105.89,357V348.8 M109.47,375V369.5M109.47,357V348.8 M113.04,375V369.5M113.04,357V348.8 M116.62,375V369.5M116.62,357V348.8 M120.2,375V369.5M120.2,357V348.8 M123.78,375V369.5M123.78,357V348.8 M127.36,375V369.5M127.36,357V348.8 M130.93,375V369.5M130.93,357V348.8 M134.51,375V369.5M134.51,357V348.8 M138.09,375V369.5M138.09,357V348.8 M141.67,375V369.5M141.67,357V348.8 M145.25,375V369.5M145.25,357V348.8 M148.83,375V369.5M148.83,357V348.8 M152.4,375V369.5M152.4,357V348.8 M155.98,375V369.5M155.98,357V348.8 M159.56,375V369.5M159.56,357V348.8 M163.14,375V369.5M163.14,357V348.8 M166.72,375V369.5M166.72,357V348.8 M170.29,375V369.5M170.29,357V348.8 M173.87,375V369.5M173.87,357V348.8 M177.45,375V369.5M177.45,357V348.8 M181.03,375V369.5M181.03,357V348.8 M184.61,375V369.5M184.61,357V348.8 M188.18,375V369.5M188.18,357V348.8 M191.76,375V369.5M191.76,357V348.8 M195.34,375V369.5M195.34,357V348.8 M198.92,375V369.5M198.92,357V348.8 M202.5,375V369.5M202.5,357V348.8 M206.07,375V369.5M206.07,357V348.8 M209.65,375V369.5M209.65,357V348.8 M213.23,375V369.5M213.23,357V348.8 M216.81,375V369.5M216.81,357V348.8 M220.39,375V369.5M220.39,357V348.8 M223.96,375V369.5M223.96,357V348.8 M227.54,375V369.5M227.54,357V348.8 M231.12,375V369.5M231.12,357V348.8 M234.7,375V369.5M234.7,357V348.8 M238.28,375V369.5M238.28,357V348.8 M241.86,375V369.5M241.86,357V348.8 M245.43,375V369.5M245.43,357V348.8 M249.01,375V369.5M249.01,357V348.8 M252.59,375V369.5M252.59,357V348.8 M256.17,375V369.5M256.17,357V348.8 M259.75,375V369.5M259.75,357V348.8 M263.32,375V369.5M263.32,357V348.8 M266.9,375V369.5M266.9,357V348.8 M270.48,375V369.5M270.48,357V348.8 M274.06,375V369.5M274.06,357V348.8 M277.64,375V369.5M277.64,357V348.8 M281.21,375V369.5M281.21,357V348.8 M284.79,375V369.5M284.79,357V348.8 M288.37,375V369.5M288.37,357V348.8 M291.95,375V369.5M291.95,357V348.8 M295.53,375V369.5M295.53,357V348.8 M299.1,375V369.5M299.1,357V348.8 M302.68,375V369.5M302.68,357V348.8 M306.26,375V369.5M306.26,357V348.8 M309.84,375V369.5M309.84,357V348.8 M313.42,375V369.5M313.42,357V348.8 M316.99,375V369.5M316.99,357V348.8 M320.57,375V369.5M320.57,357V348.8 M324.15,375V369.5M324.15,357V348.8 M327.73,375V369.5M327.73,357V348.8 M331.31,375V369.5M331.31,357V348.8 M334.89,375V369.5M334.89,357V348.8 M338.46,375V369.5M338.46,357V348.8 M342.04,375V369.5M342.04,357V348.8 M345.62,375V369.5M345.62,357V348.8 M349.2,375V369.5M349.2,357V348.8 M352.78,375V369.5M352.78,357V348.8 M356.35,375V369.5M356.35,357V348.8 M359.93,375V369.5M359.93,357V348.8 M363.51,375V369.5M363.51,357V348.8 M367.09,375V369.5M367.09,357V348.8 M370.67,375V369.5M370.67,357V348.8 M374.24,375V369.5M374.24,357V348.8 M377.82,375V369.5M377.82,357V348.8 M381.4,375V369.5M381.4,357V348.8 M384.98,375V369.5M384.98,357V348.8 M388.56,375V369.5M388.56,357V348.8 M392.13,375V369.5M392.13,357V348.8 M395.71,375V369.5M395.71,357V348.8 M399.29,375V369.5M399.29,357V348.8 M402.87,375V369.5M402.87,357V348.8 M406.45,375V369.5M406.45,357V348.8 M410.02,375V369.5M410.02,357V348.8 M413.6,375V369.5M413.6,357V348.8 M417.18,375V369.5M417.18,357V348.8 M420.76,375V369.5M420.76,357V348.8 M424.34,375V369.5M424.34,357V348.8 M427.92,375V369.5M427.92,357V348.8 M431.49,375V369.5M431.49,357V348.8 M435.07,375V369.5M435.07,357V348.8 M438.65,375V369.5M438.65,357V348.8 M442.23,375V369.5M442.23,357V348.8 M445.81,375V369.5M445.81,357V348.8 M449.38,375V369.5M449.38,357V348.8 M452.96,375V369.5M452.96,357V348.8 M456.54,375V369.5M456.54,357V348.8 M460.12,375V369.5M460.12,357V348.8 M463.7,375V369.5M463.7,357V348.8 M467.27,375V369.5M467.27,357V348.8 M470.85,375V369.5M470.85,357V348.8 M474.43,375V369.5M474.43,357V348.8 M478.01,375V369.5M478.01,357V348.8 M481.59,375V369.5M481.59,357V348.8 M485.16,375V369.5M485.16,357V348.8 M488.74,375V369.5M488.74,357V348.8 M492.32,375V369.5M492.32,357V348.8 M495.9,375V369.5M495.9,357V348.8 M499.48,375V369.5M499.48,357V348.8 M503.05,375V369.5M503.05,357V348.8 M506.63,375V369.5M506.63,357V348.8 M510.21,375V369.5M510.21,357V348.8" stroke="#b4b4b4" stroke-width="1.7" stroke-dasharray="1.5 0.7" fill="none"/>
<path d="M48.64,369.5V357 M52.22,369.5V357 M55.8,369.5V357 M59.37,369.5V357 M62.95,369.5V357 M66.53,369.5V357 M70.11,369.5V357 M73.69,369.5V357 M77.26,369.5V357 M80.84,369.5V357 M84.42,369.5V357 M88,369.5V357 M91.58,369.5V357 M95.15,369.5V357 M98.73,369.5V357 M102.31,369.5V357 M105.89,369.5V357 M109.47,369.5V357 M113.04,369.5V357 M116.62,369.5V357 M120.2,369.5V357 M123.78,369.5V357 M127.36,369.5V357 M130.93,369.5V357 M134.51,369.5V357 M138.09,369.5V357 M141.67,369.5V357 M145.25,369.5V357 M148.83,369.5V357 M152.4,369.5V357 M155.98,369.5V357 M159.56,369.5V357 M163.14,369.5V357 M166.72,369.5V357 M170.29,369.5V357 M173.87,369.5V357 M177.45,369.5V357 M181.03,369.5V357 M184.61,369.5V357 M188.18,369.5V357 M191.76,369.5V357 M195.34,369.5V357 M198.92,369.5V357 M202.5,369.5V357 M206.07,369.5V357 M209.65,369.5V357 M213.23,369.5V357 M216.81,369.5V357 M220.39,369.5V357 M223.96,369.5V357 M227.54,369.5V357 M231.12,369.5V357 M234.7,369.5V357 M238.28,369.5V357 M241.86,369.5V357 M245.43,369.5V357 M249.01,369.5V357 M252.59,369.5V357 M256.17,369.5V357 M259.75,369.5V357 M263.32,369.5V357 M266.9,369.5V357 M270.48,369.5V357 M274.06,369.5V357 M277.64,369.5V357 M281.21,369.5V357 M284.79,369.5V357 M288.37,369.5V357 M291.95,369.5V357 M295.53,369.5V357 M299.1,369.5V357 M302.68,369.5V357 M306.26,369.5V357 M309.84,369.5V357 M313.42,369.5V357 M316.99,369.5V357 M320.57,369.5V357 M324.15,369.5V357 M327.73,369.5V357 M331.31,369.5V357 M334.89,369.5V357 M338.46,369.5V357 M342.04,369.5V357 M345.62,369.5V357 M349.2,369.5V357 M352.78,369.5V357 M356.35,369.5V357 M359.93,369.5V357 M363.51,369.5V357 M367.09,369.5V357 M370.67,369.5V357 M374.24,369.5V357 M377.82,369.5V357 M381.4,369.5V357 M384.98,369.5V357 M388.56,369.5V357 M392.13,369.5V357 M395.71,369.5V357 M399.29,369.5V357 M402.87,369.5V357 M406.45,369.5V357 M410.02,369.5V357 M413.6,369.5V357 M417.18,369.5V357 M420.76,369.5V357 M424.34,369.5V357 M427.92,369.5V357 M431.49,369.5V357 M435.07,369.5V357 M438.65,369.5V357 M442.23,369.5V357 M445.81,369.5V357 M449.38,369.5V357 M452.96,369.5V357 M456.54,369.5V357 M460.12,369.5V357 M463.7,369.5V357 M467.27,369.5V357 M470.85,369.5V357 M474.43,369.5V357 M478.01,369.5V357 M481.59,369.5V357 M485.16,369.5V357 M488.74,369.5V357 M492.32,369.5V357 M495.9,369.5V357 M499.48,369.5V357 M503.05,369.5V357 M506.63,369.5V357 M510.21,369.5V357" stroke="#9c9c9c" stroke-width="1.7" stroke-dasharray="1.5 0.7" fill="none"/>
<text x="92.9" y="384.6" font-size="7.2" text-anchor="middle" fill="#222" stroke="#222" stroke-width="0.03" >AML CALGB cytogenetics</text>
<text x="92.9" y="392.9" font-size="7.2" text-anchor="middle" fill="#222" stroke="#222" stroke-width="0.03" >risk category</text>
<rect x="153.75" y="384.5" width="5" height="5" fill="#3dba4e"/>
<text x="161.75" y="389.1" font-size="7.1" text-anchor="start" fill="#222" stroke="#222" stroke-width="0.03" >Good</text>
<rect x="189.25" y="384.5" width="5" height="5" fill="#1c5593"/>
<text x="197.25" y="389.1" font-size="7.1" text-anchor="start" fill="#222" stroke="#222" stroke-width="0.03" >Intermediate</text>
<rect x="245" y="384.5" width="5" height="5" fill="#de173c"/>
<text x="253" y="389.1" font-size="7.1" text-anchor="start" fill="#222" stroke="#222" stroke-width="0.03" >Poor</text>
<text x="7.3" y="422.6" font-size="11" text-anchor="start" fill="#000" font-weight="bold" >K</text>
<line x1="40" y1="439.5" x2="40" y2="539.25" stroke="#1e1e1e" stroke-width="1.1"/>
<line x1="39.5" y1="538.75" x2="176.25" y2="538.75" stroke="#1e1e1e" stroke-width="1.1"/>
<line x1="37" y1="538.75" x2="40" y2="538.75" stroke="#1e1e1e" stroke-width="1"/>
<text x="34.7" y="541.25" font-size="7" text-anchor="end" fill="#222" stroke="#222" stroke-width="0.08" >0.0</text>
<line x1="37" y1="521" x2="40" y2="521" stroke="#1e1e1e" stroke-width="1"/>
<text x="34.7" y="523.5" font-size="7" text-anchor="end" fill="#222" stroke="#222" stroke-width="0.08" >0.2</text>
<line x1="37" y1="503.25" x2="40" y2="503.25" stroke="#1e1e1e" stroke-width="1"/>
<text x="34.7" y="505.75" font-size="7" text-anchor="end" fill="#222" stroke="#222" stroke-width="0.08" >0.4</text>
<line x1="37" y1="485.5" x2="40" y2="485.5" stroke="#1e1e1e" stroke-width="1"/>
<text x="34.7" y="488" font-size="7" text-anchor="end" fill="#222" stroke="#222" stroke-width="0.08" >0.6</text>
<line x1="37" y1="467.75" x2="40" y2="467.75" stroke="#1e1e1e" stroke-width="1"/>
<text x="34.7" y="470.25" font-size="7" text-anchor="end" fill="#222" stroke="#222" stroke-width="0.08" >0.8</text>
<line x1="37" y1="450" x2="40" y2="450" stroke="#1e1e1e" stroke-width="1"/>
<text x="34.7" y="452.5" font-size="7" text-anchor="end" fill="#222" stroke="#222" stroke-width="0.08" >1.0</text>
<text transform="translate(12.6,492.3) rotate(-90)" x="0" y="3.49" font-size="9.7" text-anchor="middle" fill="#222" stroke="#222" stroke-width="0.3" textLength="53" lengthAdjust="spacingAndGlyphs">SPAG6 mRNA level</text>
<text x="108.2" y="422.5" font-size="9.7" text-anchor="middle" fill="#111" stroke="#111" stroke-width="0.05" textLength="45.8" lengthAdjust="spacingAndGlyphs" >GSE13159</text>
<rect x="46.4" y="527.57" width="11.6" height="11.18" fill="#fbc985"/>
<line x1="52.2" y1="538.75" x2="52.2" y2="541.75" stroke="#1e1e1e" stroke-width="1"/>
<rect x="68.9" y="526.68" width="11.6" height="12.07" fill="#86a9cc"/>
<line x1="74.7" y1="538.75" x2="74.7" y2="541.75" stroke="#1e1e1e" stroke-width="1"/>
<rect x="91.4" y="524.99" width="11.6" height="13.76" fill="#a891c3"/>
<line x1="97.2" y1="538.75" x2="97.2" y2="541.75" stroke="#1e1e1e" stroke-width="1"/>
<rect x="114" y="521.89" width="11.6" height="16.86" fill="#86b8a6"/>
<line x1="119.8" y1="538.75" x2="119.8" y2="541.75" stroke="#1e1e1e" stroke-width="1"/>
<rect x="136.6" y="513.28" width="11.6" height="25.47" fill="#e5889a"/>
<line x1="142.4" y1="538.75" x2="142.4" y2="541.75" stroke="#1e1e1e" stroke-width="1"/>
<rect x="159.1" y="512.12" width="11.6" height="26.62" fill="#a4e0a2"/>
<line x1="164.9" y1="538.75" x2="164.9" y2="541.75" stroke="#1e1e1e" stroke-width="1"/>
<g fill="#f7941d"><circle cx="51.68" cy="519.85" r="0.65"/><circle cx="56.1" cy="530.37" r="0.65"/><circle cx="49.13" cy="527.94" r="0.65"/><circle cx="53.65" cy="526.11" r="0.65"/><circle cx="51.45" cy="531.95" r="0.65"/><circle cx="51.49" cy="528.09" r="0.65"/><circle cx="53.49" cy="528.1" r="0.65"/><circle cx="52.42" cy="536.67" r="0.65"/><circle cx="51.69" cy="523.13" r="0.65"/><circle cx="49.21" cy="525.17" r="0.65"/><circle cx="48.29" cy="531.15" r="0.65"/><circle cx="54.21" cy="528.94" r="0.65"/><circle cx="52.35" cy="525.63" r="0.65"/><circle cx="54.08" cy="529.38" r="0.65"/><circle cx="56.57" cy="529.28" r="0.65"/><circle cx="53.96" cy="535.19" r="0.65"/><circle cx="49.52" cy="525.39" r="0.65"/><circle cx="50.36" cy="527.5" r="0.65"/><circle cx="52.76" cy="526.76" r="0.65"/><circle cx="49.66" cy="535.55" r="0.65"/><circle cx="54.99" cy="520.04" r="0.65"/><circle cx="56.47" cy="527.35" r="0.65"/><circle cx="55.54" cy="529.99" r="0.65"/><circle cx="52.03" cy="518.2" r="0.65"/><circle cx="55.48" cy="528.32" r="0.65"/><circle cx="48.66" cy="535.18" r="0.65"/><circle cx="50.36" cy="530.08" r="0.65"/><circle cx="51.98" cy="522.98" r="0.65"/><circle cx="54.52" cy="530.13" r="0.65"/><circle cx="52.06" cy="531.72" r="0.65"/><circle cx="50.02" cy="522.87" r="0.65"/><circle cx="50.7" cy="536.16" r="0.65"/><circle cx="51.15" cy="525.49" r="0.65"/><circle cx="50.28" cy="531.33" r="0.65"/><circle cx="48.99" cy="533.98" r="0.65"/><circle cx="51.69" cy="520.96" r="0.65"/><circle cx="51.89" cy="519.48" r="0.65"/></g>
<g fill="#2a6aa8"><circle cx="71.39" cy="528.67" r="0.65"/><circle cx="73.32" cy="524.21" r="0.65"/><circle cx="75.07" cy="524.43" r="0.65"/><circle cx="73.05" cy="520.41" r="0.65"/><circle cx="76.11" cy="525.64" r="0.65"/><circle cx="76.48" cy="526.09" r="0.65"/><circle cx="72.37" cy="522.59" r="0.65"/><circle cx="74.86" cy="524.52" r="0.65"/><circle cx="77.37" cy="528.88" r="0.65"/><circle cx="77.08" cy="524.42" r="0.65"/><circle cx="73.57" cy="520.84" r="0.65"/><circle cx="71.72" cy="527.73" r="0.65"/><circle cx="78.09" cy="530.49" r="0.65"/><circle cx="76.75" cy="525.2" r="0.65"/><circle cx="71.98" cy="529.65" r="0.65"/><circle cx="74.41" cy="526.32" r="0.65"/><circle cx="75.8" cy="522.27" r="0.65"/><circle cx="77.81" cy="529.47" r="0.65"/><circle cx="71.71" cy="533.37" r="0.65"/><circle cx="75.52" cy="523.68" r="0.65"/><circle cx="76.24" cy="524.7" r="0.65"/><circle cx="75.15" cy="532.12" r="0.65"/><circle cx="71.68" cy="537.84" r="0.65"/><circle cx="70.52" cy="526.94" r="0.65"/><circle cx="72.73" cy="530.19" r="0.65"/><circle cx="76.24" cy="522.09" r="0.65"/><circle cx="72.42" cy="525.53" r="0.65"/><circle cx="72.24" cy="524.12" r="0.65"/></g>
<g fill="#6a3d9a"><circle cx="95.29" cy="532.6" r="0.65"/><circle cx="98.75" cy="529.34" r="0.65"/><circle cx="99.11" cy="527.28" r="0.65"/><circle cx="98.61" cy="525.05" r="0.65"/><circle cx="94.02" cy="531.99" r="0.65"/><circle cx="101.46" cy="527.46" r="0.65"/><circle cx="99.02" cy="521.4" r="0.65"/><circle cx="96.52" cy="535.53" r="0.65"/><circle cx="97.57" cy="518.17" r="0.65"/><circle cx="93.06" cy="527.57" r="0.65"/><circle cx="101.6" cy="524.74" r="0.65"/><circle cx="98.47" cy="521.04" r="0.65"/><circle cx="98.43" cy="531.31" r="0.65"/><circle cx="99.55" cy="531.43" r="0.65"/><circle cx="94.39" cy="527.38" r="0.65"/><circle cx="95.47" cy="529.59" r="0.65"/><circle cx="94.92" cy="533" r="0.65"/><circle cx="98.06" cy="528.04" r="0.65"/><circle cx="95.57" cy="517.65" r="0.65"/><circle cx="98.78" cy="520.29" r="0.65"/><circle cx="96.86" cy="530.98" r="0.65"/><circle cx="96.7" cy="528.43" r="0.65"/><circle cx="93.64" cy="528.66" r="0.65"/><circle cx="98.86" cy="533.05" r="0.65"/><circle cx="100.05" cy="534.37" r="0.65"/><circle cx="98.37" cy="533.22" r="0.65"/><circle cx="94.88" cy="529.69" r="0.65"/><circle cx="99.77" cy="535.52" r="0.65"/><circle cx="94.01" cy="528.34" r="0.65"/><circle cx="98.51" cy="521.96" r="0.65"/><circle cx="97.93" cy="526.31" r="0.65"/><circle cx="96.36" cy="518.09" r="0.65"/><circle cx="97.32" cy="532.77" r="0.65"/><circle cx="97.72" cy="518.5" r="0.65"/><circle cx="96.23" cy="523.35" r="0.65"/><circle cx="100.32" cy="525.61" r="0.65"/><circle cx="96.89" cy="503.25" r="0.65"/><circle cx="98.77" cy="509.46" r="0.65"/><circle cx="98.54" cy="513.9" r="0.65"/><circle cx="95.6" cy="519.23" r="0.65"/></g>
<g fill="#0b5e48"><circle cx="118.71" cy="525.8" r="0.6"/><circle cx="117.93" cy="533.53" r="0.6"/><circle cx="118.97" cy="523.91" r="0.6"/><circle cx="114.89" cy="527.02" r="0.6"/><circle cx="119.03" cy="521.69" r="0.6"/><circle cx="120.8" cy="524.3" r="0.6"/><circle cx="114.86" cy="528.51" r="0.6"/><circle cx="125.27" cy="527.75" r="0.6"/><circle cx="120.14" cy="530.77" r="0.6"/><circle cx="117.59" cy="528.81" r="0.6"/><circle cx="123.53" cy="528.36" r="0.6"/><circle cx="115.98" cy="526.58" r="0.6"/><circle cx="119.08" cy="521.84" r="0.6"/><circle cx="124.6" cy="527.22" r="0.6"/><circle cx="117.69" cy="524.57" r="0.6"/><circle cx="121.84" cy="531.18" r="0.6"/><circle cx="117.69" cy="522.55" r="0.6"/><circle cx="120.06" cy="524.58" r="0.6"/><circle cx="121.5" cy="529.39" r="0.6"/><circle cx="117.2" cy="525.17" r="0.6"/><circle cx="117.95" cy="529.4" r="0.6"/><circle cx="120.06" cy="533.58" r="0.6"/><circle cx="120.38" cy="523.48" r="0.6"/><circle cx="115.94" cy="528.44" r="0.6"/><circle cx="118.87" cy="526.44" r="0.6"/><circle cx="124.86" cy="530.08" r="0.6"/><circle cx="118.31" cy="531.43" r="0.6"/><circle cx="122.72" cy="529.96" r="0.6"/><circle cx="116.63" cy="526.68" r="0.6"/><circle cx="119.37" cy="527.95" r="0.6"/><circle cx="119.98" cy="525.87" r="0.6"/><circle cx="120.32" cy="522.78" r="0.6"/><circle cx="121.65" cy="531.36" r="0.6"/><circle cx="122.17" cy="531.69" r="0.6"/><circle cx="122.04" cy="527.89" r="0.6"/><circle cx="123.24" cy="528.03" r="0.6"/><circle cx="122.9" cy="531.68" r="0.6"/><circle cx="117.91" cy="529.16" r="0.6"/><circle cx="123.28" cy="529.51" r="0.6"/><circle cx="120.02" cy="528.88" r="0.6"/><circle cx="117.11" cy="528.15" r="0.6"/><circle cx="116.99" cy="524.9" r="0.6"/><circle cx="120.98" cy="534.07" r="0.6"/><circle cx="120.32" cy="521.66" r="0.6"/><circle cx="115.01" cy="527.73" r="0.6"/><circle cx="120.78" cy="527.77" r="0.6"/><circle cx="115.01" cy="526.54" r="0.6"/><circle cx="118.79" cy="525.44" r="0.6"/><circle cx="120.57" cy="529.26" r="0.6"/><circle cx="121.26" cy="530.42" r="0.6"/><circle cx="117.82" cy="523.04" r="0.6"/><circle cx="115.21" cy="530.11" r="0.6"/><circle cx="120.52" cy="525.55" r="0.6"/><circle cx="121.89" cy="532.65" r="0.6"/><circle cx="121.12" cy="522.14" r="0.6"/><circle cx="118.49" cy="530.73" r="0.6"/><circle cx="120.54" cy="525.72" r="0.6"/><circle cx="121.48" cy="531.93" r="0.6"/><circle cx="123.97" cy="528.33" r="0.6"/><circle cx="119.72" cy="525.38" r="0.6"/><circle cx="123.83" cy="529.38" r="0.6"/><circle cx="118.01" cy="530.35" r="0.6"/><circle cx="116.66" cy="527.98" r="0.6"/><circle cx="118.2" cy="531.87" r="0.6"/><circle cx="122.13" cy="526.14" r="0.6"/><circle cx="123.85" cy="526.55" r="0.6"/><circle cx="119.48" cy="528.64" r="0.6"/><circle cx="121.96" cy="528.85" r="0.6"/><circle cx="116.15" cy="530.1" r="0.6"/><circle cx="119.88" cy="526.86" r="0.6"/><circle cx="119.08" cy="527.46" r="0.6"/><circle cx="119.38" cy="532.87" r="0.6"/><circle cx="117.45" cy="524.18" r="0.6"/><circle cx="120.8" cy="531.62" r="0.6"/><circle cx="121.73" cy="528.05" r="0.6"/><circle cx="121.19" cy="530.02" r="0.6"/><circle cx="122.06" cy="525.42" r="0.6"/><circle cx="119.45" cy="524.76" r="0.6"/><circle cx="123.02" cy="525.3" r="0.6"/><circle cx="120.49" cy="530.49" r="0.6"/><circle cx="122.05" cy="533.08" r="0.6"/><circle cx="118.79" cy="528.14" r="0.6"/><circle cx="121.51" cy="524.88" r="0.6"/><circle cx="116.89" cy="525.65" r="0.6"/><circle cx="116.32" cy="531.47" r="0.6"/><circle cx="123.56" cy="531.21" r="0.6"/><circle cx="118.36" cy="527.58" r="0.6"/><circle cx="116.89" cy="532.75" r="0.6"/><circle cx="120.21" cy="534.8" r="0.6"/><circle cx="122.54" cy="532.8" r="0.6"/><circle cx="120.66" cy="535.05" r="0.6"/><circle cx="125.05" cy="529.32" r="0.6"/><circle cx="124.67" cy="528.14" r="0.6"/><circle cx="119.31" cy="528.76" r="0.6"/><circle cx="117" cy="529.64" r="0.6"/><circle cx="118.37" cy="534.97" r="0.6"/><circle cx="118.65" cy="522.55" r="0.6"/><circle cx="120.52" cy="522.82" r="0.6"/><circle cx="124.29" cy="529.05" r="0.6"/><circle cx="118.32" cy="535.26" r="0.6"/><circle cx="123.35" cy="528.35" r="0.6"/><circle cx="122.72" cy="527.37" r="0.6"/><circle cx="121.45" cy="524.92" r="0.6"/><circle cx="116.04" cy="526.11" r="0.6"/><circle cx="114.8" cy="528.03" r="0.6"/><circle cx="122.09" cy="530.46" r="0.6"/><circle cx="120.3" cy="521.43" r="0.6"/><circle cx="118.84" cy="532.12" r="0.6"/><circle cx="118.61" cy="524.31" r="0.6"/><circle cx="114.58" cy="527.8" r="0.6"/><circle cx="124.11" cy="525" r="0.6"/><circle cx="123.36" cy="529.6" r="0.6"/><circle cx="121.78" cy="534.27" r="0.6"/><circle cx="123.29" cy="529.02" r="0.6"/><circle cx="119.34" cy="527.49" r="0.6"/><circle cx="123.66" cy="528.26" r="0.6"/><circle cx="116.63" cy="529.66" r="0.6"/><circle cx="121.54" cy="526.08" r="0.6"/><circle cx="117.66" cy="524.58" r="0.6"/><circle cx="119.53" cy="535.72" r="0.6"/><circle cx="123.96" cy="528.32" r="0.6"/><circle cx="119.42" cy="533.66" r="0.6"/><circle cx="123.35" cy="525.22" r="0.6"/><circle cx="120.88" cy="526.93" r="0.6"/><circle cx="118.01" cy="531.25" r="0.6"/><circle cx="117.17" cy="528.98" r="0.6"/><circle cx="114.59" cy="526.51" r="0.6"/><circle cx="120.54" cy="529.9" r="0.6"/><circle cx="120.59" cy="535.88" r="0.6"/><circle cx="116.73" cy="527.63" r="0.6"/><circle cx="119.59" cy="526.07" r="0.6"/><circle cx="122.6" cy="533.15" r="0.6"/><circle cx="119.32" cy="534.01" r="0.6"/><circle cx="124.39" cy="529.71" r="0.6"/><circle cx="122.98" cy="530.42" r="0.6"/><circle cx="119.77" cy="533.12" r="0.6"/><circle cx="121.13" cy="530.37" r="0.6"/><circle cx="117.8" cy="533.96" r="0.6"/><circle cx="119.98" cy="526.75" r="0.6"/><circle cx="122.19" cy="525.35" r="0.6"/><circle cx="116.8" cy="527.63" r="0.6"/><circle cx="115.1" cy="529.7" r="0.6"/><circle cx="117.3" cy="533.47" r="0.6"/><circle cx="117.75" cy="532.98" r="0.6"/><circle cx="118.75" cy="521.81" r="0.6"/><circle cx="122.47" cy="531.2" r="0.6"/><circle cx="119.56" cy="533.05" r="0.6"/><circle cx="120.17" cy="526.5" r="0.6"/><circle cx="117.8" cy="529.41" r="0.6"/><circle cx="118.02" cy="531.11" r="0.6"/><circle cx="119.99" cy="521.44" r="0.6"/><circle cx="122.51" cy="527.35" r="0.6"/><circle cx="116.5" cy="526.33" r="0.6"/><circle cx="119.1" cy="526.74" r="0.6"/><circle cx="121.41" cy="528.13" r="0.6"/><circle cx="124.31" cy="525.83" r="0.6"/><circle cx="117.46" cy="526.13" r="0.6"/><circle cx="118.6" cy="528.05" r="0.6"/><circle cx="120.28" cy="532.37" r="0.6"/><circle cx="116.58" cy="531" r="0.6"/><circle cx="121.02" cy="529.04" r="0.6"/><circle cx="124.13" cy="530.91" r="0.6"/><circle cx="117.29" cy="528.79" r="0.6"/><circle cx="119.62" cy="525.28" r="0.6"/><circle cx="116.16" cy="530.61" r="0.6"/><circle cx="119.92" cy="523.56" r="0.6"/><circle cx="123.1" cy="523.84" r="0.6"/><circle cx="120.27" cy="528.69" r="0.6"/><circle cx="116.64" cy="527.32" r="0.6"/><circle cx="119.35" cy="535.86" r="0.6"/><circle cx="120.71" cy="523.97" r="0.6"/><circle cx="120.94" cy="535.06" r="0.6"/><circle cx="119.29" cy="529.12" r="0.6"/><circle cx="119.76" cy="521.69" r="0.6"/><circle cx="122.79" cy="525.72" r="0.6"/><circle cx="117.67" cy="522.79" r="0.6"/><circle cx="124.85" cy="527.84" r="0.6"/><circle cx="119.41" cy="527.13" r="0.6"/><circle cx="118.46" cy="531.74" r="0.6"/><circle cx="122.91" cy="528.45" r="0.6"/><circle cx="117.13" cy="527.15" r="0.6"/><circle cx="115.85" cy="528.43" r="0.6"/><circle cx="119.23" cy="535.87" r="0.6"/><circle cx="121.69" cy="529" r="0.6"/><circle cx="115.89" cy="530.37" r="0.6"/><circle cx="119.25" cy="528.22" r="0.6"/><circle cx="117.97" cy="532.41" r="0.6"/><circle cx="120.03" cy="533.61" r="0.6"/><circle cx="116.48" cy="525.33" r="0.6"/><circle cx="122.85" cy="527.56" r="0.6"/><circle cx="124.34" cy="529.42" r="0.6"/><circle cx="118.43" cy="524.22" r="0.6"/><circle cx="118.21" cy="527.07" r="0.6"/><circle cx="120.57" cy="531.78" r="0.6"/><circle cx="121.98" cy="525.29" r="0.6"/><circle cx="115.43" cy="525.92" r="0.6"/><circle cx="121.72" cy="527.24" r="0.6"/><circle cx="122.21" cy="531.93" r="0.6"/><circle cx="122.42" cy="531.03" r="0.6"/><circle cx="119.26" cy="531.21" r="0.6"/><circle cx="121.13" cy="534.32" r="0.6"/><circle cx="120.32" cy="527.59" r="0.6"/><circle cx="116.3" cy="528.44" r="0.6"/><circle cx="117.49" cy="529.31" r="0.6"/><circle cx="120.57" cy="531.47" r="0.6"/><circle cx="120.21" cy="524.33" r="0.6"/><circle cx="122.95" cy="526.42" r="0.6"/><circle cx="121.71" cy="525.1" r="0.6"/><circle cx="117.29" cy="525.02" r="0.6"/><circle cx="118.69" cy="526.9" r="0.6"/><circle cx="122.78" cy="529.42" r="0.6"/><circle cx="119.4" cy="530.6" r="0.6"/><circle cx="117.4" cy="525.01" r="0.6"/><circle cx="124.61" cy="528.94" r="0.6"/><circle cx="119.43" cy="532.2" r="0.6"/><circle cx="117.68" cy="528.79" r="0.6"/><circle cx="119.93" cy="528.35" r="0.6"/><circle cx="117.73" cy="529.82" r="0.6"/><circle cx="118.98" cy="534.74" r="0.6"/><circle cx="121.6" cy="527.78" r="0.6"/><circle cx="122.29" cy="531.41" r="0.6"/><circle cx="118.81" cy="529.1" r="0.6"/><circle cx="117.49" cy="532.48" r="0.6"/><circle cx="119.71" cy="521.62" r="0.6"/><circle cx="118.7" cy="528.14" r="0.6"/><circle cx="119.42" cy="533.09" r="0.6"/><circle cx="117.38" cy="530.78" r="0.6"/><circle cx="121.89" cy="531.86" r="0.6"/><circle cx="116.59" cy="526.89" r="0.6"/><circle cx="114.97" cy="529.72" r="0.6"/><circle cx="121.14" cy="532.56" r="0.6"/><circle cx="122.41" cy="529.32" r="0.6"/><circle cx="117.92" cy="523.96" r="0.6"/><circle cx="117.2" cy="524.47" r="0.6"/><circle cx="120.63" cy="526.35" r="0.6"/><circle cx="124.26" cy="526.69" r="0.6"/><circle cx="117.25" cy="529.83" r="0.6"/><circle cx="119.91" cy="535.53" r="0.6"/><circle cx="118.59" cy="533.58" r="0.6"/><circle cx="122.08" cy="525.52" r="0.6"/><circle cx="119.45" cy="526.54" r="0.6"/><circle cx="118.71" cy="525.19" r="0.6"/><circle cx="121.53" cy="528.74" r="0.6"/><circle cx="120.01" cy="523.57" r="0.6"/><circle cx="118.31" cy="533.68" r="0.6"/><circle cx="118.86" cy="527.75" r="0.6"/><circle cx="122.82" cy="523.6" r="0.6"/><circle cx="122.19" cy="531.75" r="0.6"/><circle cx="119.86" cy="522.52" r="0.6"/><circle cx="121.53" cy="529.33" r="0.6"/><circle cx="115.82" cy="528.61" r="0.6"/><circle cx="119.43" cy="534.23" r="0.6"/><circle cx="122.12" cy="523.11" r="0.6"/><circle cx="116.31" cy="527.87" r="0.6"/><circle cx="125.17" cy="527.69" r="0.6"/><circle cx="122.43" cy="524.19" r="0.6"/><circle cx="121.46" cy="531.08" r="0.6"/><circle cx="118.56" cy="530.35" r="0.6"/><circle cx="115.35" cy="527.11" r="0.6"/><circle cx="118.78" cy="522.5" r="0.6"/><circle cx="120.28" cy="489.99" r="0.6"/><circle cx="119.56" cy="521" r="0.6"/><circle cx="120.41" cy="494.84" r="0.6"/><circle cx="119.06" cy="520.6" r="0.6"/><circle cx="120.45" cy="500.45" r="0.6"/><circle cx="120.52" cy="503.97" r="0.6"/><circle cx="120.24" cy="487.91" r="0.6"/><circle cx="119.21" cy="502.57" r="0.6"/><circle cx="119.18" cy="520.21" r="0.6"/><circle cx="118.93" cy="500.95" r="0.6"/><circle cx="118.9" cy="515.96" r="0.6"/><circle cx="120.28" cy="493.71" r="0.6"/><circle cx="119.78" cy="520.75" r="0.6"/><circle cx="120.32" cy="513.9" r="0.6"/><circle cx="119.37" cy="500.69" r="0.6"/><circle cx="119.49" cy="518.51" r="0.6"/><circle cx="120.59" cy="501.97" r="0.6"/><circle cx="120.79" cy="499.79" r="0.6"/><circle cx="119" cy="498.19" r="0.6"/><circle cx="120.36" cy="491.65" r="0.6"/><circle cx="119.91" cy="510.96" r="0.6"/><circle cx="118.81" cy="518.81" r="0.6"/><circle cx="120.03" cy="515.81" r="0.6"/><circle cx="119.36" cy="511.76" r="0.6"/><circle cx="119.43" cy="520.44" r="0.6"/><circle cx="120.74" cy="499.3" r="0.6"/><circle cx="120.37" cy="520.32" r="0.6"/><circle cx="118.73" cy="520.4" r="0.6"/><circle cx="120.16" cy="488.87" r="0.6"/><circle cx="118.83" cy="494.9" r="0.6"/><circle cx="120.57" cy="516" r="0.6"/><circle cx="119.99" cy="513.34" r="0.6"/><circle cx="120.06" cy="493.99" r="0.6"/><circle cx="118.83" cy="503.1" r="0.6"/><circle cx="118.97" cy="515.68" r="0.6"/><circle cx="119.85" cy="509.69" r="0.6"/><circle cx="119.56" cy="492.59" r="0.6"/><circle cx="120.77" cy="521" r="0.6"/><circle cx="119.37" cy="485.89" r="0.6"/><circle cx="119.6" cy="505.26" r="0.6"/><circle cx="119.04" cy="517.89" r="0.6"/><circle cx="119.81" cy="495.18" r="0.6"/><circle cx="120.77" cy="520.1" r="0.6"/><circle cx="119.33" cy="511.07" r="0.6"/><circle cx="120.38" cy="504.97" r="0.6"/><circle cx="119.13" cy="516.18" r="0.6"/><circle cx="120.57" cy="491.17" r="0.6"/><circle cx="119.83" cy="499.81" r="0.6"/><circle cx="119.05" cy="518.37" r="0.6"/><circle cx="120.37" cy="518.58" r="0.6"/><circle cx="120.71" cy="520.33" r="0.6"/><circle cx="119.09" cy="505.04" r="0.6"/><circle cx="119.03" cy="517.76" r="0.6"/><circle cx="119.3" cy="506.16" r="0.6"/><circle cx="119.83" cy="494.29" r="0.6"/><circle cx="120.7" cy="491.46" r="0.6"/><circle cx="120.52" cy="519.36" r="0.6"/><circle cx="119.45" cy="513.64" r="0.6"/><circle cx="118.87" cy="510.81" r="0.6"/><circle cx="119.99" cy="511.97" r="0.6"/><circle cx="119.95" cy="510.76" r="0.6"/><circle cx="119.28" cy="509.29" r="0.6"/><circle cx="120.01" cy="497.17" r="0.6"/><circle cx="120.76" cy="514.48" r="0.6"/><circle cx="119.09" cy="513.29" r="0.6"/><circle cx="119.43" cy="511.74" r="0.6"/><circle cx="120.5" cy="518.61" r="0.6"/><circle cx="119.12" cy="502.64" r="0.6"/><circle cx="119.06" cy="511.4" r="0.6"/><circle cx="119.14" cy="489.67" r="0.6"/><circle cx="120.34" cy="494.2" r="0.6"/><circle cx="119.05" cy="516.65" r="0.6"/><circle cx="118.98" cy="516.31" r="0.6"/><circle cx="120.05" cy="496" r="0.6"/><circle cx="120.33" cy="505.5" r="0.6"/><circle cx="120.56" cy="520.95" r="0.6"/><circle cx="119.67" cy="502.66" r="0.6"/><circle cx="120.63" cy="511.59" r="0.6"/><circle cx="119.1" cy="495.87" r="0.6"/><circle cx="119.68" cy="497.6" r="0.6"/><circle cx="119.54" cy="489.37" r="0.6"/><circle cx="119.89" cy="499.7" r="0.6"/><circle cx="119.19" cy="489.83" r="0.6"/><circle cx="119.09" cy="515.1" r="0.6"/><circle cx="120.77" cy="513.44" r="0.6"/><circle cx="119.33" cy="520.37" r="0.6"/><circle cx="119.8" cy="492.05" r="0.6"/><circle cx="120.63" cy="518.54" r="0.6"/><circle cx="119.41" cy="505.84" r="0.6"/><circle cx="119.53" cy="507.46" r="0.6"/><circle cx="119.93" cy="494.55" r="0.6"/></g>
<g fill="#cf1d3b"><circle cx="140.62" cy="535.4" r="0.6"/><circle cx="141.27" cy="536.44" r="0.6"/><circle cx="140.91" cy="522.37" r="0.6"/><circle cx="141.5" cy="528.42" r="0.6"/><circle cx="141.26" cy="535.14" r="0.6"/><circle cx="141.05" cy="530.36" r="0.6"/><circle cx="141.07" cy="520.97" r="0.6"/><circle cx="141.94" cy="519.45" r="0.6"/><circle cx="141.06" cy="525.31" r="0.6"/><circle cx="143.38" cy="531.88" r="0.6"/><circle cx="142.05" cy="517.6" r="0.6"/><circle cx="141.02" cy="532.18" r="0.6"/><circle cx="142.94" cy="519.51" r="0.6"/><circle cx="143.44" cy="533.44" r="0.6"/><circle cx="141.89" cy="515.4" r="0.6"/><circle cx="140.62" cy="519.13" r="0.6"/><circle cx="142.94" cy="525.41" r="0.6"/><circle cx="143.31" cy="526.96" r="0.6"/><circle cx="143.8" cy="523.75" r="0.6"/><circle cx="143.17" cy="521.72" r="0.6"/><circle cx="142.75" cy="524.1" r="0.6"/><circle cx="141.84" cy="520.92" r="0.6"/><circle cx="141.48" cy="534.95" r="0.6"/><circle cx="140.83" cy="527.35" r="0.6"/><circle cx="143.55" cy="519.59" r="0.6"/><circle cx="142.62" cy="526.86" r="0.6"/><circle cx="140.7" cy="509.55" r="0.6"/><circle cx="139.4" cy="510.23" r="0.6"/><circle cx="140.71" cy="508.65" r="0.6"/><circle cx="144.46" cy="507.97" r="0.6"/><circle cx="140.13" cy="511.5" r="0.6"/><circle cx="138.82" cy="505.61" r="0.6"/><circle cx="141.44" cy="506.94" r="0.6"/><circle cx="141.09" cy="509" r="0.6"/><circle cx="143.98" cy="509.04" r="0.6"/><circle cx="142.85" cy="511.37" r="0.6"/><circle cx="142.18" cy="506.61" r="0.6"/><circle cx="146.21" cy="510.11" r="0.6"/><circle cx="145.15" cy="508.04" r="0.6"/><circle cx="139.43" cy="509.94" r="0.6"/><circle cx="140.39" cy="510.48" r="0.6"/><circle cx="141.75" cy="511.77" r="0.6"/><circle cx="138.97" cy="498.81" r="0.6"/><circle cx="144.47" cy="494.38" r="0.6"/><circle cx="144.55" cy="489.05" r="0.6"/><circle cx="140.74" cy="505.02" r="0.6"/><circle cx="145.64" cy="506.8" r="0.6"/><circle cx="142.82" cy="509.46" r="0.6"/></g>
<g fill="#3cc04e"><circle cx="164.29" cy="531.42" r="0.6"/><circle cx="168.12" cy="521.53" r="0.6"/><circle cx="167.63" cy="520.26" r="0.6"/><circle cx="165.65" cy="519.14" r="0.6"/><circle cx="166.14" cy="512.84" r="0.6"/><circle cx="163.03" cy="514.27" r="0.6"/><circle cx="163.02" cy="526.71" r="0.6"/><circle cx="161.43" cy="526.24" r="0.6"/><circle cx="168.12" cy="536.39" r="0.6"/><circle cx="163.21" cy="526.6" r="0.6"/><circle cx="168.84" cy="532.57" r="0.6"/><circle cx="160.95" cy="533.99" r="0.6"/><circle cx="167.29" cy="516.7" r="0.6"/><circle cx="165.11" cy="536.43" r="0.6"/><circle cx="161.24" cy="533.77" r="0.6"/><circle cx="166.21" cy="520.47" r="0.6"/><circle cx="166.52" cy="522.88" r="0.6"/><circle cx="166.5" cy="526.31" r="0.6"/><circle cx="166.47" cy="516.91" r="0.6"/><circle cx="166.33" cy="531.06" r="0.6"/><circle cx="167.04" cy="531.84" r="0.6"/><circle cx="163.94" cy="524.21" r="0.6"/><circle cx="168.56" cy="534.32" r="0.6"/><circle cx="164.76" cy="519.85" r="0.6"/><circle cx="163.97" cy="507.15" r="0.6"/><circle cx="166.87" cy="507.8" r="0.6"/><circle cx="164.02" cy="507.43" r="0.6"/><circle cx="164.66" cy="511.74" r="0.6"/><circle cx="165.69" cy="474.85" r="0.6"/><circle cx="166.09" cy="478.4" r="0.6"/><circle cx="164.17" cy="483.73" r="0.6"/><circle cx="163.04" cy="485.5" r="0.6"/><circle cx="165.21" cy="487.27" r="0.6"/><circle cx="165.27" cy="492.6" r="0.6"/><circle cx="165.82" cy="494.38" r="0.6"/><circle cx="163.94" cy="502.36" r="0.6"/><circle cx="166.18" cy="505.91" r="0.6"/><circle cx="166" cy="498.81" r="0.6"/></g>
<line x1="52.2" y1="526.5" x2="52.2" y2="528.63" stroke="#1a1a1a" stroke-width="0.9"/>
<line x1="49" y1="526.5" x2="55.4" y2="526.5" stroke="#1a1a1a" stroke-width="0.9"/>
<line x1="49" y1="528.63" x2="55.4" y2="528.63" stroke="#1a1a1a" stroke-width="0.9"/>
<line x1="46.4" y1="527.57" x2="58" y2="527.57" stroke="#1a1a1a" stroke-width="0.9"/>
<line x1="74.7" y1="525.61" x2="74.7" y2="527.75" stroke="#1a1a1a" stroke-width="0.9"/>
<line x1="71.5" y1="525.61" x2="77.9" y2="525.61" stroke="#1a1a1a" stroke-width="0.9"/>
<line x1="71.5" y1="527.75" x2="77.9" y2="527.75" stroke="#1a1a1a" stroke-width="0.9"/>
<line x1="68.9" y1="526.68" x2="80.5" y2="526.68" stroke="#1a1a1a" stroke-width="0.9"/>
<line x1="97.2" y1="523.93" x2="97.2" y2="526.06" stroke="#1a1a1a" stroke-width="0.9"/>
<line x1="94" y1="523.93" x2="100.4" y2="523.93" stroke="#1a1a1a" stroke-width="0.9"/>
<line x1="94" y1="526.06" x2="100.4" y2="526.06" stroke="#1a1a1a" stroke-width="0.9"/>
<line x1="91.4" y1="524.99" x2="103" y2="524.99" stroke="#1a1a1a" stroke-width="0.9"/>
<line x1="119.8" y1="521.36" x2="119.8" y2="522.42" stroke="#1a1a1a" stroke-width="0.9"/>
<line x1="116.6" y1="521.36" x2="123" y2="521.36" stroke="#1a1a1a" stroke-width="0.9"/>
<line x1="116.6" y1="522.42" x2="123" y2="522.42" stroke="#1a1a1a" stroke-width="0.9"/>
<line x1="114" y1="521.89" x2="125.6" y2="521.89" stroke="#1a1a1a" stroke-width="0.9"/>
<line x1="142.4" y1="511.5" x2="142.4" y2="515.05" stroke="#1a1a1a" stroke-width="0.9"/>
<line x1="139.2" y1="511.5" x2="145.6" y2="511.5" stroke="#1a1a1a" stroke-width="0.9"/>
<line x1="139.2" y1="515.05" x2="145.6" y2="515.05" stroke="#1a1a1a" stroke-width="0.9"/>
<line x1="136.6" y1="513.28" x2="148.2" y2="513.28" stroke="#1a1a1a" stroke-width="0.9"/>
<line x1="164.9" y1="509.02" x2="164.9" y2="515.23" stroke="#1a1a1a" stroke-width="0.9"/>
<line x1="161.7" y1="509.02" x2="168.1" y2="509.02" stroke="#1a1a1a" stroke-width="0.9"/>
<line x1="161.7" y1="515.23" x2="168.1" y2="515.23" stroke="#1a1a1a" stroke-width="0.9"/>
<line x1="159.1" y1="512.12" x2="170.7" y2="512.12" stroke="#1a1a1a" stroke-width="0.9"/>
<line x1="53.75" y1="473" x2="119.5" y2="473" stroke="#333" stroke-width="1.3"/>
<circle cx="84.55" cy="468.7" r="1.05" fill="#111"/>
<circle cx="87.95" cy="468.7" r="1.05" fill="#111"/>
<line x1="74.5" y1="483" x2="119.5" y2="483" stroke="#333" stroke-width="1.3"/>
<circle cx="97" cy="478.7" r="1.05" fill="#111"/>
<line x1="119.25" y1="464.5" x2="142" y2="464.5" stroke="#333" stroke-width="1.3"/>
<circle cx="128.8" cy="460.2" r="1.05" fill="#111"/>
<circle cx="132.2" cy="460.2" r="1.05" fill="#111"/>
<line x1="120" y1="455" x2="165.5" y2="455" stroke="#333" stroke-width="1.3"/>
<circle cx="140.8" cy="450.7" r="1.05" fill="#111"/>
<circle cx="144.2" cy="450.7" r="1.05" fill="#111"/>
<circle cx="178.25" cy="460" r="1.4" fill="#f7941d"/>
<text x="182.5" y="462.5" font-size="7.2" text-anchor="start" fill="#222" stroke="#222" stroke-width="0.02" >n=37</text>
<circle cx="178.25" cy="468.1" r="1.4" fill="#1c5593"/>
<text x="182.5" y="470.6" font-size="7.2" text-anchor="start" fill="#222" stroke="#222" stroke-width="0.02" >n=28</text>
<circle cx="178.25" cy="476.2" r="1.4" fill="#4a1070"/>
<text x="182.5" y="478.7" font-size="7.2" text-anchor="start" fill="#222" stroke="#222" stroke-width="0.02" >n=40</text>
<circle cx="178.25" cy="484.3" r="1.4" fill="#0e6b55"/>
<text x="182.5" y="486.8" font-size="7.2" text-anchor="start" fill="#222" stroke="#222" stroke-width="0.02" >n=351</text>
<circle cx="178.25" cy="492.4" r="1.4" fill="#cf1d3b"/>
<text x="182.5" y="494.9" font-size="7.2" text-anchor="start" fill="#222" stroke="#222" stroke-width="0.02" >n=48</text>
<circle cx="178.25" cy="500.5" r="1.4" fill="#3cc04e"/>
<text x="182.5" y="503" font-size="7.2" text-anchor="start" fill="#222" stroke="#222" stroke-width="0.02" >n=38</text>
<text transform="translate(54.2,548.55) rotate(-45)" x="0" y="0" font-size="7.8" text-anchor="end" fill="#222" stroke="#222" stroke-width="0.25">t(15;17)</text>
<text transform="translate(76,549.25) rotate(-45)" x="0" y="0" font-size="7.8" text-anchor="end" fill="#222" stroke="#222" stroke-width="0.25">inv(16)/t(16;16)</text>
<text transform="translate(100.7,549.25) rotate(-45)" x="0" y="0" font-size="7.8" text-anchor="end" fill="#222" stroke="#222" stroke-width="0.25">t(8;21)</text>
<text transform="translate(122.95,547.65) rotate(-45)" x="0" y="0" font-size="7.8" text-anchor="end" fill="#222" stroke="#222" stroke-width="0.25">Normal karyotype</text>
<text transform="translate(128.96,553.66) rotate(-45)" x="0" y="0" font-size="7.8" text-anchor="end" fill="#222" stroke="#222" stroke-width="0.25">+ other abnormalities</text>
<text transform="translate(145.55,548.55) rotate(-45)" x="0" y="0" font-size="7.8" text-anchor="end" fill="#222" stroke="#222" stroke-width="0.25">Complex aberrant</text>
<text transform="translate(151.56,554.56) rotate(-45)" x="0" y="0" font-size="7.8" text-anchor="end" fill="#222" stroke="#222" stroke-width="0.25">karyotype</text>
<text transform="translate(170.9,548.25) rotate(-45)" x="0" y="0" font-size="7.8" text-anchor="end" fill="#222" stroke="#222" stroke-width="0.25">t(11q23)/MLL</text>
<text x="230.2" y="422.9" font-size="11" text-anchor="start" fill="#000" font-weight="bold" >L</text>
<line x1="259.5" y1="423.7" x2="259.5" y2="581.1" stroke="#1e1e1e" stroke-width="1.1"/>
<line x1="259" y1="580.6" x2="510.8" y2="580.6" stroke="#1e1e1e" stroke-width="1.1"/>
<line x1="256" y1="428" x2="259.5" y2="428" stroke="#1e1e1e" stroke-width="1"/>
<text x="254" y="430.7" font-size="7.5" text-anchor="end" fill="#222" stroke="#222" stroke-width="0.03" >16</text>
<line x1="256" y1="453.45" x2="259.5" y2="453.45" stroke="#1e1e1e" stroke-width="1"/>
<text x="254" y="456.15" font-size="7.5" text-anchor="end" fill="#222" stroke="#222" stroke-width="0.03" >12</text>
<line x1="256" y1="478.9" x2="259.5" y2="478.9" stroke="#1e1e1e" stroke-width="1"/>
<text x="254" y="481.6" font-size="7.5" text-anchor="end" fill="#222" stroke="#222" stroke-width="0.03" >8</text>
<line x1="256" y1="504.35" x2="259.5" y2="504.35" stroke="#1e1e1e" stroke-width="1"/>
<text x="254" y="507.05" font-size="7.5" text-anchor="end" fill="#222" stroke="#222" stroke-width="0.03" >4</text>
<line x1="256" y1="529.8" x2="259.5" y2="529.8" stroke="#1e1e1e" stroke-width="1"/>
<text x="254" y="532.5" font-size="7.5" text-anchor="end" fill="#222" stroke="#222" stroke-width="0.03" >0</text>
<line x1="256" y1="555.25" x2="259.5" y2="555.25" stroke="#1e1e1e" stroke-width="1"/>
<text x="254" y="557.95" font-size="7.5" text-anchor="end" fill="#222" stroke="#222" stroke-width="0.03" >−4</text>
<line x1="256" y1="580.7" x2="259.5" y2="580.7" stroke="#1e1e1e" stroke-width="1"/>
<text x="254" y="583.4" font-size="7.5" text-anchor="end" fill="#222" stroke="#222" stroke-width="0.03" >−8</text>
<text transform="translate(234.5,502.4) rotate(-90)" x="0" y="3.49" font-size="9.7" text-anchor="middle" fill="#222" stroke="#222" stroke-width="0.25" textLength="52" lengthAdjust="spacingAndGlyphs">Normalized RPKM</text>
<text x="385" y="422.3" font-size="9.7" text-anchor="middle" fill="#111" stroke="#111" stroke-width="0.05" textLength="163.5" lengthAdjust="spacingAndGlyphs" >SPAG6 expression stratified by ELN2017</text>
<line x1="288.8" y1="580.6" x2="288.8" y2="583.6" stroke="#1e1e1e" stroke-width="1"/>
<line x1="337.8" y1="580.6" x2="337.8" y2="583.6" stroke="#1e1e1e" stroke-width="1"/>
<line x1="387.5" y1="580.6" x2="387.5" y2="583.6" stroke="#1e1e1e" stroke-width="1"/>
<line x1="436.7" y1="580.6" x2="436.7" y2="583.6" stroke="#1e1e1e" stroke-width="1"/>
<line x1="485.5" y1="580.6" x2="485.5" y2="583.6" stroke="#1e1e1e" stroke-width="1"/>
<text x="288.8" y="593.2" font-size="7.5" text-anchor="middle" fill="#222" stroke="#222" stroke-width="0.03" >Adverse</text>
<text x="337.8" y="593.2" font-size="7.5" text-anchor="middle" fill="#222" stroke="#222" stroke-width="0.03" >Intermediate</text>
<text x="387.5" y="593.2" font-size="7.5" text-anchor="middle" fill="#222" stroke="#222" stroke-width="0.03" >Intermediate</text>
<text x="387.5" y="602.5" font-size="7.5" text-anchor="middle" fill="#222" stroke="#222" stroke-width="0.03" >or adverse</text>
<text x="436.7" y="593.2" font-size="7.5" text-anchor="middle" fill="#222" stroke="#222" stroke-width="0.03" >Favorable or</text>
<text x="436.7" y="602.5" font-size="7.5" text-anchor="middle" fill="#222" stroke="#222" stroke-width="0.03" >intermediate</text>
<text x="485.5" y="593.2" font-size="7.5" text-anchor="middle" fill="#222" stroke="#222" stroke-width="0.03" >Favorable</text>
<line x1="288.6" y1="448.2" x2="486.8" y2="448.2" stroke="#333" stroke-width="1.3"/>
<circle cx="386" cy="443.9" r="1.05" fill="#111"/>
<circle cx="389.4" cy="443.9" r="1.05" fill="#111"/>
<line x1="289" y1="462" x2="437.5" y2="462" stroke="#333" stroke-width="1.3"/>
<circle cx="361.7" cy="457.7" r="1.05" fill="#111"/>
<circle cx="365.1" cy="457.7" r="1.05" fill="#111"/>
<line x1="287.8" y1="474.6" x2="336.2" y2="474.6" stroke="#333" stroke-width="1.3"/>
<circle cx="310.6" cy="470.3" r="1.05" fill="#111"/>
<circle cx="314" cy="470.3" r="1.05" fill="#111"/>
<line x1="341" y1="474.3" x2="486.2" y2="474.3" stroke="#333" stroke-width="1.3"/>
<circle cx="411.5" cy="470" r="1.05" fill="#111"/>
<circle cx="414.9" cy="470" r="1.05" fill="#111"/>
<g fill="#c00f2c"><rect x="288.05" y="561.33" width="1.5" height="1.5"/><rect x="290.2" y="560.8" width="1.5" height="1.5"/><rect x="288.05" y="557.42" width="1.5" height="1.5"/><rect x="290.2" y="556.58" width="1.5" height="1.5"/><rect x="285.9" y="556.4" width="1.5" height="1.5"/><rect x="288.05" y="554.16" width="1.5" height="1.5"/><rect x="290.2" y="553.84" width="1.5" height="1.5"/><rect x="285.9" y="552.96" width="1.5" height="1.5"/><rect x="292.35" y="552.8" width="1.5" height="1.5"/><rect x="283.75" y="552.55" width="1.5" height="1.5"/><rect x="288.05" y="551.76" width="1.5" height="1.5"/><rect x="290.2" y="551.26" width="1.5" height="1.5"/><rect x="294.5" y="550.98" width="1.5" height="1.5"/><rect x="285.9" y="550.08" width="1.5" height="1.5"/><rect x="288.05" y="548.6" width="1.5" height="1.5"/><rect x="290.2" y="548.45" width="1.5" height="1.5"/><rect x="284.82" y="548.22" width="1.5" height="1.5"/><rect x="292.35" y="547.95" width="1.5" height="1.5"/><rect x="282.68" y="546.84" width="1.5" height="1.5"/><rect x="289.12" y="546.52" width="1.5" height="1.5"/><rect x="286.98" y="546.33" width="1.5" height="1.5"/><rect x="294.5" y="546.21" width="1.5" height="1.5"/><rect x="291.28" y="545.83" width="1.5" height="1.5"/><rect x="284.82" y="545.72" width="1.5" height="1.5"/><rect x="288.05" y="544.3" width="1.5" height="1.5"/><rect x="293.43" y="544.28" width="1.5" height="1.5"/><rect x="290.2" y="543.25" width="1.5" height="1.5"/><rect x="285.9" y="543.04" width="1.5" height="1.5"/><rect x="283.75" y="542.63" width="1.5" height="1.5"/><rect x="292.35" y="542.42" width="1.5" height="1.5"/><rect x="294.5" y="542.24" width="1.5" height="1.5"/><rect x="281.6" y="542.2" width="1.5" height="1.5"/><rect x="288.05" y="542.13" width="1.5" height="1.5"/><rect x="296.65" y="541.61" width="1.5" height="1.5"/><rect x="279.45" y="541.42" width="1.5" height="1.5"/><rect x="290.2" y="541.09" width="1.5" height="1.5"/><rect x="298.8" y="541.09" width="1.5" height="1.5"/><rect x="285.9" y="540.63" width="1.5" height="1.5"/><rect x="283.75" y="540.46" width="1.5" height="1.5"/><rect x="293.43" y="540.34" width="1.5" height="1.5"/><rect x="277.3" y="540.31" width="1.5" height="1.5"/><rect x="281.6" y="540" width="1.5" height="1.5"/><rect x="288.05" y="539.69" width="1.5" height="1.5"/><rect x="295.57" y="539.32" width="1.5" height="1.5"/><rect x="291.28" y="539.18" width="1.5" height="1.5"/><rect x="284.82" y="538.54" width="1.5" height="1.5"/><rect x="279.45" y="538.52" width="1.5" height="1.5"/><rect x="297.73" y="538.25" width="1.5" height="1.5"/><rect x="293.43" y="538.16" width="1.5" height="1.5"/><rect x="289.12" y="537.63" width="1.5" height="1.5"/><rect x="286.98" y="536.96" width="1.5" height="1.5"/><rect x="291.28" y="536.91" width="1.5" height="1.5"/><rect x="282.68" y="536.86" width="1.5" height="1.5"/><rect x="295.57" y="536.85" width="1.5" height="1.5"/><rect x="284.82" y="536.25" width="1.5" height="1.5"/><rect x="293.43" y="535.53" width="1.5" height="1.5"/><rect x="289.12" y="535.26" width="1.5" height="1.5"/><rect x="286.98" y="534.46" width="1.5" height="1.5"/><rect x="291.28" y="534.17" width="1.5" height="1.5"/><rect x="284.82" y="533.97" width="1.5" height="1.5"/><rect x="282.68" y="533.6" width="1.5" height="1.5"/><rect x="294.5" y="533.58" width="1.5" height="1.5"/><rect x="280.53" y="533.5" width="1.5" height="1.5"/><rect x="296.65" y="533.43" width="1.5" height="1.5"/><rect x="289.12" y="532.82" width="1.5" height="1.5"/><rect x="278.38" y="532.77" width="1.5" height="1.5"/><rect x="286.98" y="531.13" width="1.5" height="1.5"/><rect x="289.12" y="530.66" width="1.5" height="1.5"/><rect x="291.28" y="529.79" width="1.5" height="1.5"/><rect x="284.82" y="529.45" width="1.5" height="1.5"/><rect x="288.05" y="528.38" width="1.5" height="1.5"/><rect x="290.2" y="527.29" width="1.5" height="1.5"/><rect x="285.9" y="527.06" width="1.5" height="1.5"/><rect x="292.35" y="527.01" width="1.5" height="1.5"/><rect x="283.75" y="526.98" width="1.5" height="1.5"/><rect x="294.5" y="526.41" width="1.5" height="1.5"/><rect x="288.05" y="525.94" width="1.5" height="1.5"/><rect x="290.2" y="524.68" width="1.5" height="1.5"/><rect x="285.9" y="524.6" width="1.5" height="1.5"/><rect x="292.35" y="524.53" width="1.5" height="1.5"/><rect x="283.75" y="524.28" width="1.5" height="1.5"/><rect x="288.05" y="523.78" width="1.5" height="1.5"/><rect x="294.5" y="523.33" width="1.5" height="1.5"/><rect x="281.6" y="523.31" width="1.5" height="1.5"/><rect x="291.28" y="522.63" width="1.5" height="1.5"/><rect x="285.9" y="522.23" width="1.5" height="1.5"/><rect x="283.75" y="522.08" width="1.5" height="1.5"/><rect x="296.65" y="522.04" width="1.5" height="1.5"/><rect x="279.45" y="522.04" width="1.5" height="1.5"/><rect x="288.05" y="520.76" width="1.5" height="1.5"/><rect x="290.2" y="520.26" width="1.5" height="1.5"/><rect x="285.9" y="520.02" width="1.5" height="1.5"/><rect x="292.35" y="519.82" width="1.5" height="1.5"/><rect x="283.75" y="519.68" width="1.5" height="1.5"/><rect x="294.5" y="519.31" width="1.5" height="1.5"/><rect x="288.05" y="518.5" width="1.5" height="1.5"/><rect x="281.6" y="518.2" width="1.5" height="1.5"/><rect x="296.65" y="518.19" width="1.5" height="1.5"/><rect x="279.45" y="518.19" width="1.5" height="1.5"/><rect x="290.2" y="517.78" width="1.5" height="1.5"/><rect x="285.9" y="517.08" width="1.5" height="1.5"/><rect x="292.35" y="516.7" width="1.5" height="1.5"/><rect x="283.75" y="516.62" width="1.5" height="1.5"/><rect x="294.5" y="516.56" width="1.5" height="1.5"/><rect x="288.05" y="516.19" width="1.5" height="1.5"/><rect x="280.53" y="516.17" width="1.5" height="1.5"/><rect x="297.73" y="516.08" width="1.5" height="1.5"/><rect x="278.38" y="516.08" width="1.5" height="1.5"/><rect x="290.2" y="515.63" width="1.5" height="1.5"/><rect x="299.88" y="515.11" width="1.5" height="1.5"/><rect x="285.9" y="514.49" width="1.5" height="1.5"/><rect x="292.35" y="514.39" width="1.5" height="1.5"/><rect x="283.75" y="514.15" width="1.5" height="1.5"/><rect x="288.05" y="513.79" width="1.5" height="1.5"/><rect x="294.5" y="513.65" width="1.5" height="1.5"/><rect x="290.2" y="513.32" width="1.5" height="1.5"/><rect x="281.6" y="513.13" width="1.5" height="1.5"/><rect x="296.65" y="513.05" width="1.5" height="1.5"/><rect x="279.45" y="512.99" width="1.5" height="1.5"/><rect x="298.8" y="512.68" width="1.5" height="1.5"/><rect x="277.3" y="512.56" width="1.5" height="1.5"/><rect x="285.9" y="511.97" width="1.5" height="1.5"/><rect x="288.05" y="511.55" width="1.5" height="1.5"/><rect x="291.28" y="511.32" width="1.5" height="1.5"/><rect x="283.75" y="510.59" width="1.5" height="1.5"/><rect x="293.43" y="510.49" width="1.5" height="1.5"/><rect x="281.6" y="510.33" width="1.5" height="1.5"/><rect x="295.57" y="510.3" width="1.5" height="1.5"/><rect x="279.45" y="510.04" width="1.5" height="1.5"/><rect x="297.73" y="509.98" width="1.5" height="1.5"/><rect x="288.05" y="509.02" width="1.5" height="1.5"/><rect x="290.2" y="508.22" width="1.5" height="1.5"/><rect x="285.9" y="508.02" width="1.5" height="1.5"/><rect x="292.35" y="507.46" width="1.5" height="1.5"/><rect x="283.75" y="507.31" width="1.5" height="1.5"/><rect x="294.5" y="507.21" width="1.5" height="1.5"/><rect x="281.6" y="506.95" width="1.5" height="1.5"/><rect x="288.05" y="506.6" width="1.5" height="1.5"/><rect x="290.2" y="505.98" width="1.5" height="1.5"/><rect x="285.9" y="505.8" width="1.5" height="1.5"/><rect x="296.65" y="505.52" width="1.5" height="1.5"/><rect x="292.35" y="505.19" width="1.5" height="1.5"/><rect x="283.75" y="505.18" width="1.5" height="1.5"/><rect x="279.45" y="505.13" width="1.5" height="1.5"/><rect x="294.5" y="504.82" width="1.5" height="1.5"/><rect x="288.05" y="504.24" width="1.5" height="1.5"/><rect x="281.6" y="504.21" width="1.5" height="1.5"/><rect x="298.8" y="504.15" width="1.5" height="1.5"/><rect x="290.2" y="503.85" width="1.5" height="1.5"/><rect x="277.3" y="503.78" width="1.5" height="1.5"/><rect x="300.95" y="503.73" width="1.5" height="1.5"/><rect x="285.9" y="502.78" width="1.5" height="1.5"/><rect x="292.35" y="502.29" width="1.5" height="1.5"/><rect x="288.05" y="500.89" width="1.5" height="1.5"/><rect x="290.2" y="500.37" width="1.5" height="1.5"/><rect x="285.9" y="500.16" width="1.5" height="1.5"/><rect x="292.35" y="500.08" width="1.5" height="1.5"/><rect x="283.75" y="498.93" width="1.5" height="1.5"/><rect x="288.05" y="498.05" width="1.5" height="1.5"/><rect x="290.2" y="497.89" width="1.5" height="1.5"/><rect x="285.9" y="497.54" width="1.5" height="1.5"/><rect x="292.35" y="496.95" width="1.5" height="1.5"/><rect x="288.05" y="495.47" width="1.5" height="1.5"/><rect x="290.2" y="495.34" width="1.5" height="1.5"/><rect x="285.9" y="495.21" width="1.5" height="1.5"/><rect x="289.12" y="493.43" width="1.5" height="1.5"/><rect x="286.98" y="492.44" width="1.5" height="1.5"/><rect x="291.28" y="492.15" width="1.5" height="1.5"/><rect x="288.05" y="489.28" width="1.5" height="1.5"/><rect x="290.2" y="488.33" width="1.5" height="1.5"/><rect x="288.05" y="483.24" width="1.5" height="1.5"/><rect x="337.05" y="563.86" width="1.5" height="1.5"/><rect x="337.05" y="561.42" width="1.5" height="1.5"/><rect x="339.2" y="560.62" width="1.5" height="1.5"/><rect x="337.05" y="559.18" width="1.5" height="1.5"/><rect x="339.2" y="558.36" width="1.5" height="1.5"/><rect x="334.9" y="558.28" width="1.5" height="1.5"/><rect x="341.35" y="557.47" width="1.5" height="1.5"/><rect x="332.75" y="557.42" width="1.5" height="1.5"/><rect x="337.05" y="556.24" width="1.5" height="1.5"/><rect x="339.2" y="555.72" width="1.5" height="1.5"/><rect x="334.9" y="555.67" width="1.5" height="1.5"/><rect x="342.43" y="555.58" width="1.5" height="1.5"/><rect x="332.75" y="555.05" width="1.5" height="1.5"/><rect x="337.05" y="553.75" width="1.5" height="1.5"/><rect x="340.28" y="553.7" width="1.5" height="1.5"/><rect x="343.5" y="553.54" width="1.5" height="1.5"/><rect x="334.9" y="553.43" width="1.5" height="1.5"/><rect x="332.75" y="552.44" width="1.5" height="1.5"/><rect x="330.6" y="552.15" width="1.5" height="1.5"/><rect x="345.65" y="551.96" width="1.5" height="1.5"/><rect x="338.12" y="551.63" width="1.5" height="1.5"/><rect x="335.98" y="551.14" width="1.5" height="1.5"/><rect x="340.28" y="550.98" width="1.5" height="1.5"/><rect x="342.43" y="550.95" width="1.5" height="1.5"/><rect x="333.82" y="550.15" width="1.5" height="1.5"/><rect x="331.68" y="550.03" width="1.5" height="1.5"/><rect x="344.57" y="549.83" width="1.5" height="1.5"/><rect x="329.53" y="549.75" width="1.5" height="1.5"/><rect x="346.73" y="549.65" width="1.5" height="1.5"/><rect x="337.05" y="548.42" width="1.5" height="1.5"/><rect x="339.2" y="548.36" width="1.5" height="1.5"/><rect x="334.9" y="547.72" width="1.5" height="1.5"/><rect x="341.35" y="547.56" width="1.5" height="1.5"/><rect x="332.75" y="547.45" width="1.5" height="1.5"/><rect x="343.5" y="547.44" width="1.5" height="1.5"/><rect x="330.6" y="547.44" width="1.5" height="1.5"/><rect x="345.65" y="547.13" width="1.5" height="1.5"/><rect x="328.45" y="547.03" width="1.5" height="1.5"/><rect x="337.05" y="545.92" width="1.5" height="1.5"/><rect x="339.2" y="545.89" width="1.5" height="1.5"/><rect x="347.8" y="545.86" width="1.5" height="1.5"/><rect x="326.3" y="545.68" width="1.5" height="1.5"/><rect x="334.9" y="545.41" width="1.5" height="1.5"/><rect x="341.35" y="545.38" width="1.5" height="1.5"/><rect x="332.75" y="545.19" width="1.5" height="1.5"/><rect x="343.5" y="544.79" width="1.5" height="1.5"/><rect x="330.6" y="544.71" width="1.5" height="1.5"/><rect x="345.65" y="544.69" width="1.5" height="1.5"/><rect x="328.45" y="544.55" width="1.5" height="1.5"/><rect x="349.95" y="544.22" width="1.5" height="1.5"/><rect x="338.12" y="543.82" width="1.5" height="1.5"/><rect x="325.23" y="543.73" width="1.5" height="1.5"/><rect x="347.8" y="543.67" width="1.5" height="1.5"/><rect x="335.98" y="543.15" width="1.5" height="1.5"/><rect x="340.28" y="542.87" width="1.5" height="1.5"/><rect x="333.82" y="542.86" width="1.5" height="1.5"/><rect x="342.43" y="542.78" width="1.5" height="1.5"/><rect x="331.68" y="542.73" width="1.5" height="1.5"/><rect x="344.57" y="542.71" width="1.5" height="1.5"/><rect x="329.53" y="542.04" width="1.5" height="1.5"/><rect x="327.38" y="541.85" width="1.5" height="1.5"/><rect x="346.73" y="541.74" width="1.5" height="1.5"/><rect x="338.12" y="541.51" width="1.5" height="1.5"/><rect x="348.88" y="541.44" width="1.5" height="1.5"/><rect x="325.23" y="541.42" width="1.5" height="1.5"/><rect x="351.03" y="541.41" width="1.5" height="1.5"/><rect x="323.07" y="541.34" width="1.5" height="1.5"/><rect x="335.98" y="540.9" width="1.5" height="1.5"/><rect x="340.28" y="540.7" width="1.5" height="1.5"/><rect x="333.82" y="539.87" width="1.5" height="1.5"/><rect x="337.05" y="539.04" width="1.5" height="1.5"/><rect x="342.43" y="538.89" width="1.5" height="1.5"/><rect x="339.2" y="538.62" width="1.5" height="1.5"/><rect x="331.68" y="538.54" width="1.5" height="1.5"/><rect x="344.57" y="538.06" width="1.5" height="1.5"/><rect x="337.05" y="536.89" width="1.5" height="1.5"/><rect x="334.9" y="536.71" width="1.5" height="1.5"/><rect x="340.28" y="536.7" width="1.5" height="1.5"/><rect x="332.75" y="535.68" width="1.5" height="1.5"/><rect x="342.43" y="535.06" width="1.5" height="1.5"/><rect x="338.12" y="534.82" width="1.5" height="1.5"/><rect x="335.98" y="534.7" width="1.5" height="1.5"/><rect x="330.6" y="534.6" width="1.5" height="1.5"/><rect x="344.57" y="534.59" width="1.5" height="1.5"/><rect x="340.28" y="533.82" width="1.5" height="1.5"/><rect x="333.82" y="533.45" width="1.5" height="1.5"/><rect x="328.45" y="533.4" width="1.5" height="1.5"/><rect x="346.73" y="533.38" width="1.5" height="1.5"/><rect x="326.3" y="533.34" width="1.5" height="1.5"/><rect x="337.05" y="532.83" width="1.5" height="1.5"/><rect x="342.43" y="532.11" width="1.5" height="1.5"/><rect x="339.2" y="531.98" width="1.5" height="1.5"/><rect x="331.68" y="531.68" width="1.5" height="1.5"/><rect x="344.57" y="531.63" width="1.5" height="1.5"/><rect x="334.9" y="531.32" width="1.5" height="1.5"/><rect x="329.53" y="531.1" width="1.5" height="1.5"/><rect x="337.05" y="530.69" width="1.5" height="1.5"/><rect x="341.35" y="530.23" width="1.5" height="1.5"/><rect x="346.73" y="530.15" width="1.5" height="1.5"/><rect x="327.38" y="530.1" width="1.5" height="1.5"/><rect x="348.88" y="530.07" width="1.5" height="1.5"/><rect x="339.2" y="529.67" width="1.5" height="1.5"/><rect x="333.82" y="529.42" width="1.5" height="1.5"/><rect x="335.98" y="528.68" width="1.5" height="1.5"/><rect x="331.68" y="528.5" width="1.5" height="1.5"/><rect x="338.12" y="527.73" width="1.5" height="1.5"/><rect x="340.28" y="527.66" width="1.5" height="1.5"/><rect x="342.43" y="527.5" width="1.5" height="1.5"/><rect x="334.9" y="526.78" width="1.5" height="1.5"/><rect x="344.57" y="526.74" width="1.5" height="1.5"/><rect x="337.05" y="525.57" width="1.5" height="1.5"/><rect x="339.2" y="525.48" width="1.5" height="1.5"/><rect x="341.35" y="525.4" width="1.5" height="1.5"/><rect x="332.75" y="525.32" width="1.5" height="1.5"/><rect x="330.6" y="525.23" width="1.5" height="1.5"/><rect x="334.9" y="524.63" width="1.5" height="1.5"/><rect x="343.5" y="524.24" width="1.5" height="1.5"/><rect x="338.12" y="523.47" width="1.5" height="1.5"/><rect x="340.28" y="523.21" width="1.5" height="1.5"/><rect x="335.98" y="521.84" width="1.5" height="1.5"/><rect x="333.82" y="521.61" width="1.5" height="1.5"/><rect x="342.43" y="521.51" width="1.5" height="1.5"/><rect x="338.12" y="521.23" width="1.5" height="1.5"/><rect x="340.28" y="520.78" width="1.5" height="1.5"/><rect x="331.68" y="520.69" width="1.5" height="1.5"/><rect x="335.98" y="519.71" width="1.5" height="1.5"/><rect x="333.82" y="519.32" width="1.5" height="1.5"/><rect x="338.12" y="518.93" width="1.5" height="1.5"/><rect x="341.35" y="518.91" width="1.5" height="1.5"/><rect x="343.5" y="518.88" width="1.5" height="1.5"/><rect x="330.6" y="518.81" width="1.5" height="1.5"/><rect x="345.65" y="517.66" width="1.5" height="1.5"/><rect x="337.05" y="517.02" width="1.5" height="1.5"/><rect x="339.2" y="516.08" width="1.5" height="1.5"/><rect x="334.9" y="515.75" width="1.5" height="1.5"/><rect x="341.35" y="515.16" width="1.5" height="1.5"/><rect x="337.05" y="514.77" width="1.5" height="1.5"/><rect x="332.75" y="514.72" width="1.5" height="1.5"/><rect x="339.2" y="513.84" width="1.5" height="1.5"/><rect x="337.05" y="512.07" width="1.5" height="1.5"/><rect x="339.2" y="511.22" width="1.5" height="1.5"/><rect x="334.9" y="510.65" width="1.5" height="1.5"/><rect x="341.35" y="510.48" width="1.5" height="1.5"/><rect x="332.75" y="510.33" width="1.5" height="1.5"/><rect x="343.5" y="510.11" width="1.5" height="1.5"/><rect x="330.6" y="510.03" width="1.5" height="1.5"/><rect x="337.05" y="509.94" width="1.5" height="1.5"/><rect x="345.65" y="509.38" width="1.5" height="1.5"/><rect x="328.45" y="509.11" width="1.5" height="1.5"/><rect x="339.2" y="508.92" width="1.5" height="1.5"/><rect x="347.8" y="508.91" width="1.5" height="1.5"/><rect x="335.98" y="508.1" width="1.5" height="1.5"/><rect x="337.05" y="504.59" width="1.5" height="1.5"/><rect x="339.2" y="504.13" width="1.5" height="1.5"/><rect x="334.9" y="504.01" width="1.5" height="1.5"/><rect x="341.35" y="503.3" width="1.5" height="1.5"/><rect x="337.05" y="502.19" width="1.5" height="1.5"/><rect x="337.05" y="499.07" width="1.5" height="1.5"/><rect x="339.2" y="498.84" width="1.5" height="1.5"/><rect x="337.05" y="496.46" width="1.5" height="1.5"/><rect x="339.2" y="495.11" width="1.5" height="1.5"/><rect x="337.05" y="494.3" width="1.5" height="1.5"/><rect x="337.05" y="491.1" width="1.5" height="1.5"/><rect x="337.05" y="487.2" width="1.5" height="1.5"/><rect x="339.2" y="487.06" width="1.5" height="1.5"/><rect x="334.9" y="485.83" width="1.5" height="1.5"/><rect x="338.12" y="485.15" width="1.5" height="1.5"/><rect x="337.05" y="483.24" width="1.5" height="1.5"/><rect x="338.12" y="481.33" width="1.5" height="1.5"/><rect x="386.75" y="554.5" width="1.5" height="1.5"/><rect x="386.75" y="547.82" width="1.5" height="1.5"/><rect x="388.9" y="546.87" width="1.5" height="1.5"/><rect x="386.75" y="538.28" width="1.5" height="1.5"/><rect x="388.9" y="537.96" width="1.5" height="1.5"/><rect x="386.75" y="514.1" width="1.5" height="1.5"/><rect x="386.75" y="504.87" width="1.5" height="1.5"/><rect x="435.95" y="557.04" width="1.5" height="1.5"/><rect x="435.95" y="550.68" width="1.5" height="1.5"/><rect x="435.95" y="548.46" width="1.5" height="1.5"/><rect x="438.1" y="547.82" width="1.5" height="1.5"/><rect x="434.88" y="546.55" width="1.5" height="1.5"/><rect x="435.95" y="542.41" width="1.5" height="1.5"/><rect x="438.1" y="541.46" width="1.5" height="1.5"/><rect x="435.95" y="534.78" width="1.5" height="1.5"/><rect x="438.1" y="533.5" width="1.5" height="1.5"/><rect x="435.95" y="525.23" width="1.5" height="1.5"/><rect x="435.95" y="522.05" width="1.5" height="1.5"/><rect x="435.95" y="512.51" width="1.5" height="1.5"/><rect x="484.75" y="560.72" width="1.5" height="1.5"/><rect x="487.5" y="560.66" width="1.5" height="1.5"/><rect x="482" y="560.17" width="1.5" height="1.5"/><rect x="490.25" y="560.09" width="1.5" height="1.5"/><rect x="479.25" y="559.53" width="1.5" height="1.5"/><rect x="493" y="559.33" width="1.5" height="1.5"/><rect x="476.5" y="559.22" width="1.5" height="1.5"/><rect x="495.75" y="559.13" width="1.5" height="1.5"/><rect x="473.75" y="558.73" width="1.5" height="1.5"/><rect x="486.12" y="558.01" width="1.5" height="1.5"/><rect x="483.38" y="557.53" width="1.5" height="1.5"/><rect x="488.88" y="556.82" width="1.5" height="1.5"/><rect x="480.62" y="556.82" width="1.5" height="1.5"/><rect x="491.62" y="556.7" width="1.5" height="1.5"/><rect x="477.88" y="556.49" width="1.5" height="1.5"/><rect x="494.38" y="555.97" width="1.5" height="1.5"/><rect x="475.12" y="555.96" width="1.5" height="1.5"/><rect x="484.75" y="555.07" width="1.5" height="1.5"/><rect x="497.12" y="555.02" width="1.5" height="1.5"/><rect x="472.38" y="554.92" width="1.5" height="1.5"/><rect x="499.88" y="554.69" width="1.5" height="1.5"/><rect x="487.5" y="554.39" width="1.5" height="1.5"/><rect x="482" y="554.23" width="1.5" height="1.5"/><rect x="490.25" y="554.15" width="1.5" height="1.5"/><rect x="479.25" y="553.62" width="1.5" height="1.5"/><rect x="493" y="553.23" width="1.5" height="1.5"/><rect x="476.5" y="552.96" width="1.5" height="1.5"/><rect x="484.75" y="552.29" width="1.5" height="1.5"/><rect x="495.75" y="552.24" width="1.5" height="1.5"/><rect x="473.75" y="552.23" width="1.5" height="1.5"/><rect x="487.5" y="549.99" width="1.5" height="1.5"/><rect x="483.38" y="549.93" width="1.5" height="1.5"/><rect x="480.62" y="549.63" width="1.5" height="1.5"/><rect x="490.25" y="549.63" width="1.5" height="1.5"/><rect x="477.88" y="549.45" width="1.5" height="1.5"/><rect x="493" y="549.24" width="1.5" height="1.5"/><rect x="475.12" y="549.09" width="1.5" height="1.5"/><rect x="495.75" y="548.66" width="1.5" height="1.5"/><rect x="472.38" y="548.63" width="1.5" height="1.5"/><rect x="498.5" y="548.46" width="1.5" height="1.5"/><rect x="469.62" y="547.92" width="1.5" height="1.5"/><rect x="484.75" y="547.44" width="1.5" height="1.5"/><rect x="501.25" y="547.37" width="1.5" height="1.5"/><rect x="487.5" y="547.18" width="1.5" height="1.5"/><rect x="482" y="546.95" width="1.5" height="1.5"/><rect x="490.25" y="546.75" width="1.5" height="1.5"/><rect x="479.25" y="546.73" width="1.5" height="1.5"/><rect x="476.5" y="546.72" width="1.5" height="1.5"/><rect x="493" y="545.63" width="1.5" height="1.5"/><rect x="495.75" y="544.93" width="1.5" height="1.5"/><rect x="486.12" y="544.74" width="1.5" height="1.5"/><rect x="473.75" y="544.73" width="1.5" height="1.5"/><rect x="483.38" y="544.3" width="1.5" height="1.5"/><rect x="488.88" y="543.86" width="1.5" height="1.5"/><rect x="480.62" y="543.07" width="1.5" height="1.5"/><rect x="491.62" y="542.97" width="1.5" height="1.5"/><rect x="477.88" y="542.49" width="1.5" height="1.5"/><rect x="494.38" y="542.46" width="1.5" height="1.5"/><rect x="475.12" y="542.03" width="1.5" height="1.5"/><rect x="484.75" y="541.25" width="1.5" height="1.5"/><rect x="487.5" y="541.07" width="1.5" height="1.5"/><rect x="497.12" y="541.04" width="1.5" height="1.5"/><rect x="482" y="540.68" width="1.5" height="1.5"/><rect x="472.38" y="540.66" width="1.5" height="1.5"/><rect x="490.25" y="540.24" width="1.5" height="1.5"/><rect x="499.88" y="540.22" width="1.5" height="1.5"/><rect x="479.25" y="539.91" width="1.5" height="1.5"/><rect x="493" y="539.53" width="1.5" height="1.5"/><rect x="476.5" y="539.52" width="1.5" height="1.5"/><rect x="469.62" y="539.2" width="1.5" height="1.5"/><rect x="502.62" y="539.08" width="1.5" height="1.5"/><rect x="484.75" y="538.02" width="1.5" height="1.5"/><rect x="487.5" y="537.64" width="1.5" height="1.5"/><rect x="482" y="537.12" width="1.5" height="1.5"/><rect x="490.25" y="537.1" width="1.5" height="1.5"/><rect x="479.25" y="536.36" width="1.5" height="1.5"/><rect x="493" y="536.12" width="1.5" height="1.5"/><rect x="476.5" y="535.82" width="1.5" height="1.5"/><rect x="495.75" y="535.81" width="1.5" height="1.5"/><rect x="473.75" y="535.45" width="1.5" height="1.5"/><rect x="498.5" y="535.45" width="1.5" height="1.5"/><rect x="484.75" y="535.16" width="1.5" height="1.5"/><rect x="487.5" y="534.88" width="1.5" height="1.5"/><rect x="471" y="534.41" width="1.5" height="1.5"/><rect x="482" y="534.27" width="1.5" height="1.5"/><rect x="490.25" y="533.88" width="1.5" height="1.5"/><rect x="501.25" y="533.64" width="1.5" height="1.5"/><rect x="479.25" y="533.52" width="1.5" height="1.5"/><rect x="494.38" y="533.42" width="1.5" height="1.5"/><rect x="476.5" y="532.61" width="1.5" height="1.5"/><rect x="484.75" y="531.92" width="1.5" height="1.5"/><rect x="487.5" y="531.88" width="1.5" height="1.5"/><rect x="473.75" y="531.6" width="1.5" height="1.5"/><rect x="482" y="531.47" width="1.5" height="1.5"/><rect x="490.25" y="531.13" width="1.5" height="1.5"/><rect x="484.75" y="521.41" width="1.5" height="1.5"/><rect x="486.12" y="518.87" width="1.5" height="1.5"/><rect x="484.75" y="514.42" width="1.5" height="1.5"/><rect x="487.5" y="513.78" width="1.5" height="1.5"/><rect x="484.75" y="511.23" width="1.5" height="1.5"/><rect x="484.75" y="497.87" width="1.5" height="1.5"/><rect x="487.5" y="497.24" width="1.5" height="1.5"/><rect x="483.38" y="495.33" width="1.5" height="1.5"/><rect x="486.12" y="493.42" width="1.5" height="1.5"/><rect x="483.38" y="492.15" width="1.5" height="1.5"/><rect x="487.5" y="490.87" width="1.5" height="1.5"/><rect x="484.75" y="487.69" width="1.5" height="1.5"/><rect x="484.75" y="484.51" width="1.5" height="1.5"/></g>
<line x1="281.8" y1="522" x2="295.8" y2="522" stroke="#777" stroke-width="1.4"/>
<line x1="281.8" y1="525.8" x2="295.8" y2="525.8" stroke="#777" stroke-width="1.4"/>
<line x1="288.8" y1="522" x2="288.8" y2="525.8" stroke="#777" stroke-width="1"/>
<line x1="274.2" y1="523.9" x2="303.4" y2="523.9" stroke="#333" stroke-width="1.6"/>
<line x1="330.8" y1="528.9" x2="344.8" y2="528.9" stroke="#777" stroke-width="1.4"/>
<line x1="330.8" y1="532.7" x2="344.8" y2="532.7" stroke="#777" stroke-width="1.4"/>
<line x1="337.8" y1="528.9" x2="337.8" y2="532.7" stroke="#777" stroke-width="1"/>
<line x1="323.4" y1="530.8" x2="352.2" y2="530.8" stroke="#333" stroke-width="1.6"/>
<line x1="387.5" y1="529" x2="387.5" y2="542.7" stroke="#333" stroke-width="1.1"/>
<line x1="380.4" y1="529" x2="394.6" y2="529" stroke="#444" stroke-width="1.5"/>
<line x1="380.4" y1="542.7" x2="394.6" y2="542.7" stroke="#444" stroke-width="1.5"/>
<line x1="373" y1="535.8" x2="402" y2="535.8" stroke="#333" stroke-width="1.6"/>
<line x1="436.7" y1="536.2" x2="436.7" y2="543.2" stroke="#333" stroke-width="1.1"/>
<line x1="429.7" y1="536.2" x2="443.7" y2="536.2" stroke="#444" stroke-width="1.5"/>
<line x1="429.7" y1="543.2" x2="443.7" y2="543.2" stroke="#444" stroke-width="1.5"/>
<line x1="422.2" y1="539.1" x2="451.2" y2="539.1" stroke="#333" stroke-width="1.6"/>
<line x1="485.5" y1="537.6" x2="485.5" y2="540.8" stroke="#333" stroke-width="1.1"/>
<line x1="478.5" y1="537.6" x2="492.5" y2="537.6" stroke="#444" stroke-width="1.5"/>
<line x1="478.5" y1="540.8" x2="492.5" y2="540.8" stroke="#444" stroke-width="1.5"/>
<line x1="471.1" y1="539.2" x2="499.9" y2="539.2" stroke="#333" stroke-width="1.6"/>
<rect x="0.5" y="0.5" width="519" height="609" fill="none" stroke="#000" stroke-width="1.2"/>
</svg>
</body></html>
